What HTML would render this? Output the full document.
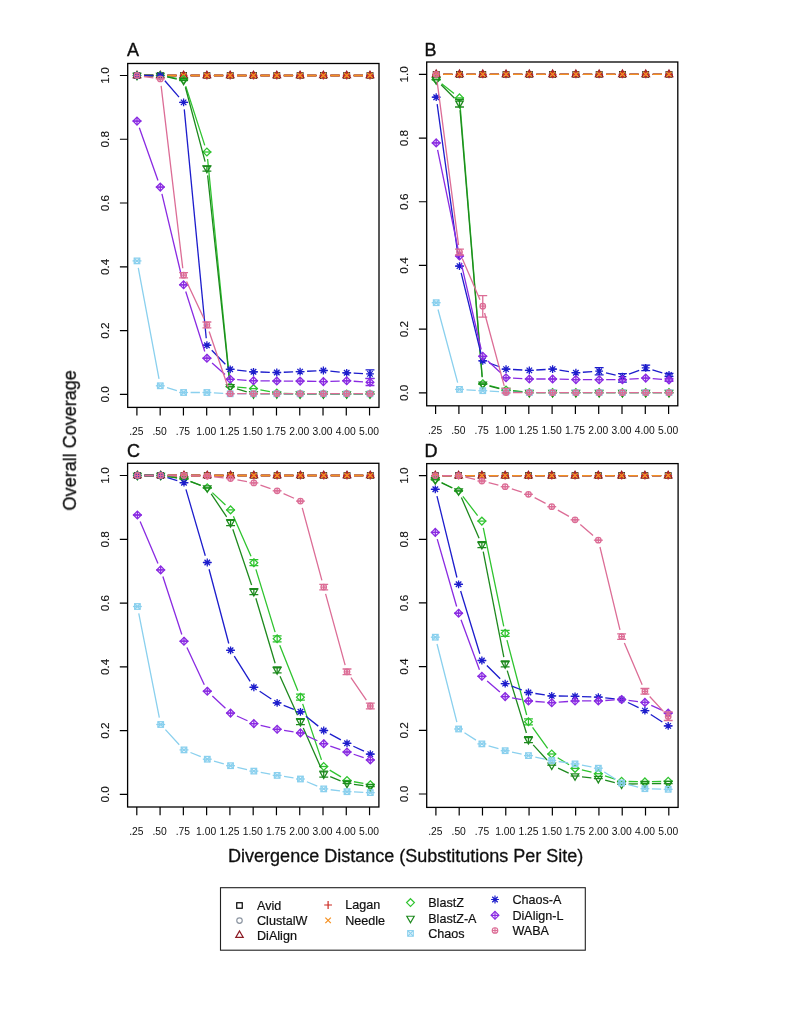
<!DOCTYPE html>
<html><head><meta charset="utf-8"><title>Overall Coverage</title>
<style>html,body{margin:0;padding:0;background:#fff;}body{width:785px;height:1016px;overflow:hidden;}svg{display:block;}text{stroke:#111;stroke-linejoin:round;}</style>
</head><body>
<svg width="785" height="1016" viewBox="0 0 785 1016" font-family='"Liberation Sans", sans-serif' fill="#111">
<defs><filter id="bl" x="0" y="0" width="1" height="1"><feGaussianBlur stdDeviation="0.3"/></filter></defs>
<rect width="785" height="1016" fill="#fff"/>
<g filter="url(#bl)">
<path d="M144 75.5L153.3 75.5M167.3 75.5L176.6 75.5M190.6 75.5L199.9 75.5M213.9 75.5L223.2 75.5M237.2 75.5L246.5 75.5M260.5 75.5L269.8 75.5M283.8 75.5L293.1 75.5M307.1 75.5L316.4 75.5M330.4 75.5L339.7 75.5M353.7 75.5L363 75.5" stroke="#000000" stroke-width="1.3" fill="none"/>
<rect x="134.25" y="72.75" width="5.5" height="5.5" stroke="#000000" stroke-width="1.3" fill="none"/>
<rect x="157.55" y="72.75" width="5.5" height="5.5" stroke="#000000" stroke-width="1.3" fill="none"/>
<rect x="180.85" y="72.75" width="5.5" height="5.5" stroke="#000000" stroke-width="1.3" fill="none"/>
<rect x="204.15" y="72.75" width="5.5" height="5.5" stroke="#000000" stroke-width="1.3" fill="none"/>
<rect x="227.45" y="72.75" width="5.5" height="5.5" stroke="#000000" stroke-width="1.3" fill="none"/>
<rect x="250.75" y="72.75" width="5.5" height="5.5" stroke="#000000" stroke-width="1.3" fill="none"/>
<rect x="274.05" y="72.75" width="5.5" height="5.5" stroke="#000000" stroke-width="1.3" fill="none"/>
<rect x="297.35" y="72.75" width="5.5" height="5.5" stroke="#000000" stroke-width="1.3" fill="none"/>
<rect x="320.65" y="72.75" width="5.5" height="5.5" stroke="#000000" stroke-width="1.3" fill="none"/>
<rect x="343.95" y="72.75" width="5.5" height="5.5" stroke="#000000" stroke-width="1.3" fill="none"/>
<rect x="367.25" y="72.75" width="5.5" height="5.5" stroke="#000000" stroke-width="1.3" fill="none"/>
<path d="M144 75.5L153.3 75.5M167.3 75.5L176.6 75.5M190.6 75.5L199.9 75.5M213.9 75.5L223.2 75.5M237.2 75.5L246.5 75.5M260.5 75.5L269.8 75.5M283.8 75.5L293.1 75.5M307.1 75.5L316.4 75.5M330.4 75.5L339.7 75.5M353.7 75.5L363 75.5" stroke="#8e97a3" stroke-width="1.3" fill="none"/>
<circle cx="137" cy="75.5" r="2.75" stroke="#8e97a3" stroke-width="1.3" fill="none"/>
<circle cx="160.3" cy="75.5" r="2.75" stroke="#8e97a3" stroke-width="1.3" fill="none"/>
<circle cx="183.6" cy="75.5" r="2.75" stroke="#8e97a3" stroke-width="1.3" fill="none"/>
<circle cx="206.9" cy="75.5" r="2.75" stroke="#8e97a3" stroke-width="1.3" fill="none"/>
<circle cx="230.2" cy="75.5" r="2.75" stroke="#8e97a3" stroke-width="1.3" fill="none"/>
<circle cx="253.5" cy="75.5" r="2.75" stroke="#8e97a3" stroke-width="1.3" fill="none"/>
<circle cx="276.8" cy="75.5" r="2.75" stroke="#8e97a3" stroke-width="1.3" fill="none"/>
<circle cx="300.1" cy="75.5" r="2.75" stroke="#8e97a3" stroke-width="1.3" fill="none"/>
<circle cx="323.4" cy="75.5" r="2.75" stroke="#8e97a3" stroke-width="1.3" fill="none"/>
<circle cx="346.7" cy="75.5" r="2.75" stroke="#8e97a3" stroke-width="1.3" fill="none"/>
<circle cx="370" cy="75.5" r="2.75" stroke="#8e97a3" stroke-width="1.3" fill="none"/>
<path d="M144 75.5L153.3 75.5M167.3 75.5L176.6 75.5M190.6 75.5L199.9 75.5M213.9 75.5L223.2 75.5M237.2 75.5L246.5 75.5M260.5 75.5L269.8 75.5M283.8 75.5L293.1 75.5M307.1 75.5L316.4 75.5M330.4 75.5L339.7 75.5M353.7 75.5L363 75.5" stroke="#8b1a24" stroke-width="1.3" fill="none"/>
<polygon points="137,71.22 140.7,77.64 133.3,77.64" stroke="#8b1a24" stroke-width="1.3" fill="none"/>
<polygon points="160.3,71.22 164,77.64 156.6,77.64" stroke="#8b1a24" stroke-width="1.3" fill="none"/>
<polygon points="183.6,71.22 187.3,77.64 179.9,77.64" stroke="#8b1a24" stroke-width="1.3" fill="none"/>
<polygon points="206.9,71.22 210.6,77.64 203.2,77.64" stroke="#8b1a24" stroke-width="1.3" fill="none"/>
<polygon points="230.2,71.22 233.9,77.64 226.5,77.64" stroke="#8b1a24" stroke-width="1.3" fill="none"/>
<polygon points="253.5,71.22 257.2,77.64 249.8,77.64" stroke="#8b1a24" stroke-width="1.3" fill="none"/>
<polygon points="276.8,71.22 280.5,77.64 273.1,77.64" stroke="#8b1a24" stroke-width="1.3" fill="none"/>
<polygon points="300.1,71.22 303.8,77.64 296.4,77.64" stroke="#8b1a24" stroke-width="1.3" fill="none"/>
<polygon points="323.4,71.22 327.1,77.64 319.7,77.64" stroke="#8b1a24" stroke-width="1.3" fill="none"/>
<polygon points="346.7,71.22 350.4,77.64 343,77.64" stroke="#8b1a24" stroke-width="1.3" fill="none"/>
<polygon points="370,71.22 373.7,77.64 366.3,77.64" stroke="#8b1a24" stroke-width="1.3" fill="none"/>
<path d="M144 75.5L153.3 75.5M167.3 75.5L176.6 75.5M190.6 75.5L199.9 75.5M213.9 75.5L223.2 75.5M237.2 75.5L246.5 75.5M260.5 75.5L269.8 75.5M283.8 75.5L293.1 75.5M307.1 75.5L316.4 75.5M330.4 75.5L339.7 75.5M353.7 75.5L363 75.5" stroke="#cc2a22" stroke-width="1.3" fill="none"/>
<path d="M133.11 75.5L140.89 75.5M137 71.61L137 79.39" stroke="#cc2a22" stroke-width="1.3" fill="none"/>
<path d="M156.41 75.5L164.19 75.5M160.3 71.61L160.3 79.39" stroke="#cc2a22" stroke-width="1.3" fill="none"/>
<path d="M179.71 75.5L187.49 75.5M183.6 71.61L183.6 79.39" stroke="#cc2a22" stroke-width="1.3" fill="none"/>
<path d="M203.01 75.5L210.79 75.5M206.9 71.61L206.9 79.39" stroke="#cc2a22" stroke-width="1.3" fill="none"/>
<path d="M226.31 75.5L234.09 75.5M230.2 71.61L230.2 79.39" stroke="#cc2a22" stroke-width="1.3" fill="none"/>
<path d="M249.61 75.5L257.39 75.5M253.5 71.61L253.5 79.39" stroke="#cc2a22" stroke-width="1.3" fill="none"/>
<path d="M272.91 75.5L280.69 75.5M276.8 71.61L276.8 79.39" stroke="#cc2a22" stroke-width="1.3" fill="none"/>
<path d="M296.21 75.5L303.99 75.5M300.1 71.61L300.1 79.39" stroke="#cc2a22" stroke-width="1.3" fill="none"/>
<path d="M319.51 75.5L327.29 75.5M323.4 71.61L323.4 79.39" stroke="#cc2a22" stroke-width="1.3" fill="none"/>
<path d="M342.81 75.5L350.59 75.5M346.7 71.61L346.7 79.39" stroke="#cc2a22" stroke-width="1.3" fill="none"/>
<path d="M366.11 75.5L373.89 75.5M370 71.61L370 79.39" stroke="#cc2a22" stroke-width="1.3" fill="none"/>
<path d="M144 75.5L153.3 75.5M167.3 75.5L176.6 75.5M190.6 75.5L199.9 75.5M213.9 75.5L223.2 75.5M237.2 75.5L246.5 75.5M260.5 75.5L269.8 75.5M283.8 75.5L293.1 75.5M307.1 75.5L316.4 75.5M330.4 75.5L339.7 75.5M353.7 75.5L363 75.5" stroke="#f59020" stroke-width="1.3" fill="none"/>
<path d="M134.25 72.75L139.75 78.25M134.25 78.25L139.75 72.75" stroke="#f59020" stroke-width="1.3" fill="none"/>
<path d="M157.55 72.75L163.05 78.25M157.55 78.25L163.05 72.75" stroke="#f59020" stroke-width="1.3" fill="none"/>
<path d="M180.85 72.75L186.35 78.25M180.85 78.25L186.35 72.75" stroke="#f59020" stroke-width="1.3" fill="none"/>
<path d="M204.15 72.75L209.65 78.25M204.15 78.25L209.65 72.75" stroke="#f59020" stroke-width="1.3" fill="none"/>
<path d="M227.45 72.75L232.95 78.25M227.45 78.25L232.95 72.75" stroke="#f59020" stroke-width="1.3" fill="none"/>
<path d="M250.75 72.75L256.25 78.25M250.75 78.25L256.25 72.75" stroke="#f59020" stroke-width="1.3" fill="none"/>
<path d="M274.05 72.75L279.55 78.25M274.05 78.25L279.55 72.75" stroke="#f59020" stroke-width="1.3" fill="none"/>
<path d="M297.35 72.75L302.85 78.25M297.35 78.25L302.85 72.75" stroke="#f59020" stroke-width="1.3" fill="none"/>
<path d="M320.65 72.75L326.15 78.25M320.65 78.25L326.15 72.75" stroke="#f59020" stroke-width="1.3" fill="none"/>
<path d="M343.95 72.75L349.45 78.25M343.95 78.25L349.45 72.75" stroke="#f59020" stroke-width="1.3" fill="none"/>
<path d="M367.25 72.75L372.75 78.25M367.25 78.25L372.75 72.75" stroke="#f59020" stroke-width="1.3" fill="none"/>
<path d="M144 75.5L153.3 75.5M167.2 76.68L176.7 78.32M185.74 86.16L204.76 145.34M207.59 158.97L229.51 379.43M237.17 387.06L246.53 387.94M260.38 389.9L269.92 391.7M283.79 393.3L293.11 393.7M307.1 394L316.4 394M330.4 394L339.7 394M353.7 394L363 394" stroke="#2fc42f" stroke-width="1.3" fill="none"/>
<polygon points="137,71.61 140.89,75.5 137,79.39 133.11,75.5" stroke="#2fc42f" stroke-width="1.3" fill="none"/>
<polygon points="160.3,71.61 164.19,75.5 160.3,79.39 156.41,75.5" stroke="#2fc42f" stroke-width="1.3" fill="none"/>
<path d="M179.15 79.5L188.05 79.5" stroke="#2fc42f" stroke-width="1.3" fill="none"/>
<polygon points="183.6,75.61 187.49,79.5 183.6,83.39 179.71,79.5" stroke="#2fc42f" stroke-width="1.3" fill="none"/>
<path d="M202.45 152L211.35 152" stroke="#2fc42f" stroke-width="1.3" fill="none"/>
<polygon points="206.9,148.11 210.79,152 206.9,155.89 203.01,152" stroke="#2fc42f" stroke-width="1.3" fill="none"/>
<path d="M225.75 386.4L234.65 386.4" stroke="#2fc42f" stroke-width="1.3" fill="none"/>
<polygon points="230.2,382.51 234.09,386.4 230.2,390.29 226.31,386.4" stroke="#2fc42f" stroke-width="1.3" fill="none"/>
<path d="M249.05 388.6L257.95 388.6" stroke="#2fc42f" stroke-width="1.3" fill="none"/>
<polygon points="253.5,384.71 257.39,388.6 253.5,392.49 249.61,388.6" stroke="#2fc42f" stroke-width="1.3" fill="none"/>
<path d="M272.35 393L281.25 393" stroke="#2fc42f" stroke-width="1.3" fill="none"/>
<polygon points="276.8,389.11 280.69,393 276.8,396.89 272.91,393" stroke="#2fc42f" stroke-width="1.3" fill="none"/>
<path d="M295.65 394L304.55 394" stroke="#2fc42f" stroke-width="1.3" fill="none"/>
<polygon points="300.1,390.11 303.99,394 300.1,397.89 296.21,394" stroke="#2fc42f" stroke-width="1.3" fill="none"/>
<path d="M318.95 394L327.85 394" stroke="#2fc42f" stroke-width="1.3" fill="none"/>
<polygon points="323.4,390.11 327.29,394 323.4,397.89 319.51,394" stroke="#2fc42f" stroke-width="1.3" fill="none"/>
<path d="M342.25 394L351.15 394" stroke="#2fc42f" stroke-width="1.3" fill="none"/>
<polygon points="346.7,390.11 350.59,394 346.7,397.89 342.81,394" stroke="#2fc42f" stroke-width="1.3" fill="none"/>
<path d="M365.55 394L374.45 394" stroke="#2fc42f" stroke-width="1.3" fill="none"/>
<polygon points="370,390.11 373.89,394 370,397.89 366.11,394" stroke="#2fc42f" stroke-width="1.3" fill="none"/>
<path d="M144 75.5L153.3 75.5M167.14 76.97L176.76 79.03M185.39 87.27L205.11 161.63M207.64 175.36L229.46 379.84M236.9 388.81L246.8 391.79M260.5 393.86L269.8 393.94M283.8 394L293.1 394M307.1 394L316.4 394M330.4 394L339.7 394M353.7 394L363 394" stroke="#1f8a1f" stroke-width="1.3" fill="none"/>
<polygon points="137,79.78 140.7,73.36 133.3,73.36" stroke="#1f8a1f" stroke-width="1.3" fill="none"/>
<polygon points="160.3,79.78 164,73.36 156.6,73.36" stroke="#1f8a1f" stroke-width="1.3" fill="none"/>
<path d="M179.15 80.5L188.05 80.5" stroke="#1f8a1f" stroke-width="1.3" fill="none"/>
<polygon points="183.6,84.78 187.3,78.36 179.9,78.36" stroke="#1f8a1f" stroke-width="1.3" fill="none"/>
<path d="M206.9 165.8L206.9 171.2M202.45 165.8L211.35 165.8M202.45 171.2L211.35 171.2" stroke="#1f8a1f" stroke-width="1.3" fill="none"/>
<polygon points="206.9,172.68 210.6,166.26 203.2,166.26" stroke="#1f8a1f" stroke-width="1.3" fill="none"/>
<path d="M225.75 386.8L234.65 386.8" stroke="#1f8a1f" stroke-width="1.3" fill="none"/>
<polygon points="230.2,391.08 233.9,384.66 226.5,384.66" stroke="#1f8a1f" stroke-width="1.3" fill="none"/>
<path d="M249.05 393.8L257.95 393.8" stroke="#1f8a1f" stroke-width="1.3" fill="none"/>
<polygon points="253.5,398.08 257.2,391.66 249.8,391.66" stroke="#1f8a1f" stroke-width="1.3" fill="none"/>
<path d="M272.35 394L281.25 394" stroke="#1f8a1f" stroke-width="1.3" fill="none"/>
<polygon points="276.8,398.28 280.5,391.86 273.1,391.86" stroke="#1f8a1f" stroke-width="1.3" fill="none"/>
<path d="M295.65 394L304.55 394" stroke="#1f8a1f" stroke-width="1.3" fill="none"/>
<polygon points="300.1,398.28 303.8,391.86 296.4,391.86" stroke="#1f8a1f" stroke-width="1.3" fill="none"/>
<path d="M318.95 394L327.85 394" stroke="#1f8a1f" stroke-width="1.3" fill="none"/>
<polygon points="323.4,398.28 327.1,391.86 319.7,391.86" stroke="#1f8a1f" stroke-width="1.3" fill="none"/>
<path d="M342.25 394L351.15 394" stroke="#1f8a1f" stroke-width="1.3" fill="none"/>
<polygon points="346.7,398.28 350.4,391.86 343,391.86" stroke="#1f8a1f" stroke-width="1.3" fill="none"/>
<path d="M365.55 394L374.45 394" stroke="#1f8a1f" stroke-width="1.3" fill="none"/>
<polygon points="370,398.28 373.7,391.86 366.3,391.86" stroke="#1f8a1f" stroke-width="1.3" fill="none"/>
<path d="M138.28 267.78L159.02 378.92M167.03 387.73L176.87 390.57M190.6 392.5L199.9 392.5M213.89 392.89L223.21 393.41M237.2 393.8L246.5 393.8M260.5 393.8L269.8 393.8M283.8 393.8L293.1 393.8M307.1 393.8L316.4 393.8M330.4 393.8L339.7 393.8M353.7 393.8L363 393.8" stroke="#8ad0ee" stroke-width="1.3" fill="none"/>
<path d="M132.55 260.9L141.45 260.9" stroke="#8ad0ee" stroke-width="1.3" fill="none"/>
<rect x="134.25" y="258.15" width="5.5" height="5.5" stroke="#8ad0ee" stroke-width="1.3" fill="none"/><path d="M134.25 258.15L139.75 263.65M134.25 263.65L139.75 258.15" stroke="#8ad0ee" stroke-width="1.3" fill="none"/>
<path d="M155.85 385.8L164.75 385.8" stroke="#8ad0ee" stroke-width="1.3" fill="none"/>
<rect x="157.55" y="383.05" width="5.5" height="5.5" stroke="#8ad0ee" stroke-width="1.3" fill="none"/><path d="M157.55 383.05L163.05 388.55M157.55 388.55L163.05 383.05" stroke="#8ad0ee" stroke-width="1.3" fill="none"/>
<path d="M179.15 392.5L188.05 392.5" stroke="#8ad0ee" stroke-width="1.3" fill="none"/>
<rect x="180.85" y="389.75" width="5.5" height="5.5" stroke="#8ad0ee" stroke-width="1.3" fill="none"/><path d="M180.85 389.75L186.35 395.25M180.85 395.25L186.35 389.75" stroke="#8ad0ee" stroke-width="1.3" fill="none"/>
<path d="M202.45 392.5L211.35 392.5" stroke="#8ad0ee" stroke-width="1.3" fill="none"/>
<rect x="204.15" y="389.75" width="5.5" height="5.5" stroke="#8ad0ee" stroke-width="1.3" fill="none"/><path d="M204.15 389.75L209.65 395.25M204.15 395.25L209.65 389.75" stroke="#8ad0ee" stroke-width="1.3" fill="none"/>
<path d="M225.75 393.8L234.65 393.8" stroke="#8ad0ee" stroke-width="1.3" fill="none"/>
<rect x="227.45" y="391.05" width="5.5" height="5.5" stroke="#8ad0ee" stroke-width="1.3" fill="none"/><path d="M227.45 391.05L232.95 396.55M227.45 396.55L232.95 391.05" stroke="#8ad0ee" stroke-width="1.3" fill="none"/>
<path d="M249.05 393.8L257.95 393.8" stroke="#8ad0ee" stroke-width="1.3" fill="none"/>
<rect x="250.75" y="391.05" width="5.5" height="5.5" stroke="#8ad0ee" stroke-width="1.3" fill="none"/><path d="M250.75 391.05L256.25 396.55M250.75 396.55L256.25 391.05" stroke="#8ad0ee" stroke-width="1.3" fill="none"/>
<path d="M272.35 393.8L281.25 393.8" stroke="#8ad0ee" stroke-width="1.3" fill="none"/>
<rect x="274.05" y="391.05" width="5.5" height="5.5" stroke="#8ad0ee" stroke-width="1.3" fill="none"/><path d="M274.05 391.05L279.55 396.55M274.05 396.55L279.55 391.05" stroke="#8ad0ee" stroke-width="1.3" fill="none"/>
<path d="M295.65 393.8L304.55 393.8" stroke="#8ad0ee" stroke-width="1.3" fill="none"/>
<rect x="297.35" y="391.05" width="5.5" height="5.5" stroke="#8ad0ee" stroke-width="1.3" fill="none"/><path d="M297.35 391.05L302.85 396.55M297.35 396.55L302.85 391.05" stroke="#8ad0ee" stroke-width="1.3" fill="none"/>
<path d="M318.95 393.8L327.85 393.8" stroke="#8ad0ee" stroke-width="1.3" fill="none"/>
<rect x="320.65" y="391.05" width="5.5" height="5.5" stroke="#8ad0ee" stroke-width="1.3" fill="none"/><path d="M320.65 391.05L326.15 396.55M320.65 396.55L326.15 391.05" stroke="#8ad0ee" stroke-width="1.3" fill="none"/>
<path d="M342.25 393.8L351.15 393.8" stroke="#8ad0ee" stroke-width="1.3" fill="none"/>
<rect x="343.95" y="391.05" width="5.5" height="5.5" stroke="#8ad0ee" stroke-width="1.3" fill="none"/><path d="M343.95 391.05L349.45 396.55M343.95 396.55L349.45 391.05" stroke="#8ad0ee" stroke-width="1.3" fill="none"/>
<path d="M365.55 393.8L374.45 393.8" stroke="#8ad0ee" stroke-width="1.3" fill="none"/>
<rect x="367.25" y="391.05" width="5.5" height="5.5" stroke="#8ad0ee" stroke-width="1.3" fill="none"/><path d="M367.25 391.05L372.75 396.55M367.25 396.55L372.75 391.05" stroke="#8ad0ee" stroke-width="1.3" fill="none"/>
<path d="M144 75.5L153.3 75.5M164.88 80.79L179.02 97.11M184.27 109.37L206.23 338.23M211.77 350.23L225.33 364.27M237.16 370.05L246.54 371.05M260.5 372.01L269.8 372.29M283.79 372.23L293.11 371.87M307.09 371.27L316.41 370.83M330.37 371.19L339.73 372.11M353.69 373.13L363.01 373.57" stroke="#1c1ccc" stroke-width="1.3" fill="none"/>
<path d="M134.25 72.75L139.75 78.25M134.25 78.25L139.75 72.75M133.11 75.5L140.89 75.5M137 71.61L137 79.39" stroke="#1c1ccc" stroke-width="1.3" fill="none"/>
<path d="M157.55 72.75L163.05 78.25M157.55 78.25L163.05 72.75M156.41 75.5L164.19 75.5M160.3 71.61L160.3 79.39" stroke="#1c1ccc" stroke-width="1.3" fill="none"/>
<path d="M179.15 102.4L188.05 102.4" stroke="#1c1ccc" stroke-width="1.3" fill="none"/>
<path d="M180.85 99.65L186.35 105.15M180.85 105.15L186.35 99.65M179.71 102.4L187.49 102.4M183.6 98.51L183.6 106.29" stroke="#1c1ccc" stroke-width="1.3" fill="none"/>
<path d="M202.45 345.2L211.35 345.2" stroke="#1c1ccc" stroke-width="1.3" fill="none"/>
<path d="M204.15 342.45L209.65 347.95M204.15 347.95L209.65 342.45M203.01 345.2L210.79 345.2M206.9 341.31L206.9 349.09" stroke="#1c1ccc" stroke-width="1.3" fill="none"/>
<path d="M225.75 369.3L234.65 369.3" stroke="#1c1ccc" stroke-width="1.3" fill="none"/>
<path d="M227.45 366.55L232.95 372.05M227.45 372.05L232.95 366.55M226.31 369.3L234.09 369.3M230.2 365.41L230.2 373.19" stroke="#1c1ccc" stroke-width="1.3" fill="none"/>
<path d="M249.05 371.8L257.95 371.8" stroke="#1c1ccc" stroke-width="1.3" fill="none"/>
<path d="M250.75 369.05L256.25 374.55M250.75 374.55L256.25 369.05M249.61 371.8L257.39 371.8M253.5 367.91L253.5 375.69" stroke="#1c1ccc" stroke-width="1.3" fill="none"/>
<path d="M272.35 372.5L281.25 372.5" stroke="#1c1ccc" stroke-width="1.3" fill="none"/>
<path d="M274.05 369.75L279.55 375.25M274.05 375.25L279.55 369.75M272.91 372.5L280.69 372.5M276.8 368.61L276.8 376.39" stroke="#1c1ccc" stroke-width="1.3" fill="none"/>
<path d="M295.65 371.6L304.55 371.6" stroke="#1c1ccc" stroke-width="1.3" fill="none"/>
<path d="M297.35 368.85L302.85 374.35M297.35 374.35L302.85 368.85M296.21 371.6L303.99 371.6M300.1 367.71L300.1 375.49" stroke="#1c1ccc" stroke-width="1.3" fill="none"/>
<path d="M318.95 370.5L327.85 370.5" stroke="#1c1ccc" stroke-width="1.3" fill="none"/>
<path d="M320.65 367.75L326.15 373.25M320.65 373.25L326.15 367.75M319.51 370.5L327.29 370.5M323.4 366.61L323.4 374.39" stroke="#1c1ccc" stroke-width="1.3" fill="none"/>
<path d="M342.25 372.8L351.15 372.8" stroke="#1c1ccc" stroke-width="1.3" fill="none"/>
<path d="M343.95 370.05L349.45 375.55M343.95 375.55L349.45 370.05M342.81 372.8L350.59 372.8M346.7 368.91L346.7 376.69" stroke="#1c1ccc" stroke-width="1.3" fill="none"/>
<path d="M370 369.8L370 378.3M365.55 369.8L374.45 369.8M365.55 378.3L374.45 378.3" stroke="#1c1ccc" stroke-width="1.3" fill="none"/>
<path d="M367.25 371.15L372.75 376.65M367.25 376.65L372.75 371.15M366.11 373.9L373.89 373.9M370 370.01L370 377.79" stroke="#1c1ccc" stroke-width="1.3" fill="none"/>
<path d="M139.33 127.7L157.97 180.5M161.92 193.91L181.98 277.99M185.72 291.47L204.78 351.53M212.09 362.9L225.01 374.6M237.19 379.72L246.51 380.28M260.5 380.79L269.8 380.91M283.8 381.03L293.1 381.07M307.1 381.25L316.4 381.45M330.4 381.36L339.7 381.04M353.69 381.25L363.01 381.85" stroke="#8a2be2" stroke-width="1.3" fill="none"/>
<path d="M132.55 121.1L141.45 121.1" stroke="#8a2be2" stroke-width="1.3" fill="none"/>
<polygon points="137,117.21 140.89,121.1 137,124.99 133.11,121.1" stroke="#8a2be2" stroke-width="1.3" fill="none"/><path d="M133.11 121.1L140.89 121.1M137 117.21L137 124.99" stroke="#8a2be2" stroke-width="1.3" fill="none"/>
<path d="M155.85 187.1L164.75 187.1" stroke="#8a2be2" stroke-width="1.3" fill="none"/>
<polygon points="160.3,183.21 164.19,187.1 160.3,190.99 156.41,187.1" stroke="#8a2be2" stroke-width="1.3" fill="none"/><path d="M156.41 187.1L164.19 187.1M160.3 183.21L160.3 190.99" stroke="#8a2be2" stroke-width="1.3" fill="none"/>
<path d="M179.15 284.8L188.05 284.8" stroke="#8a2be2" stroke-width="1.3" fill="none"/>
<polygon points="183.6,280.91 187.49,284.8 183.6,288.69 179.71,284.8" stroke="#8a2be2" stroke-width="1.3" fill="none"/><path d="M179.71 284.8L187.49 284.8M183.6 280.91L183.6 288.69" stroke="#8a2be2" stroke-width="1.3" fill="none"/>
<path d="M202.45 358.2L211.35 358.2" stroke="#8a2be2" stroke-width="1.3" fill="none"/>
<polygon points="206.9,354.31 210.79,358.2 206.9,362.09 203.01,358.2" stroke="#8a2be2" stroke-width="1.3" fill="none"/><path d="M203.01 358.2L210.79 358.2M206.9 354.31L206.9 362.09" stroke="#8a2be2" stroke-width="1.3" fill="none"/>
<path d="M225.75 379.3L234.65 379.3" stroke="#8a2be2" stroke-width="1.3" fill="none"/>
<polygon points="230.2,375.41 234.09,379.3 230.2,383.19 226.31,379.3" stroke="#8a2be2" stroke-width="1.3" fill="none"/><path d="M226.31 379.3L234.09 379.3M230.2 375.41L230.2 383.19" stroke="#8a2be2" stroke-width="1.3" fill="none"/>
<path d="M249.05 380.7L257.95 380.7" stroke="#8a2be2" stroke-width="1.3" fill="none"/>
<polygon points="253.5,376.81 257.39,380.7 253.5,384.59 249.61,380.7" stroke="#8a2be2" stroke-width="1.3" fill="none"/><path d="M249.61 380.7L257.39 380.7M253.5 376.81L253.5 384.59" stroke="#8a2be2" stroke-width="1.3" fill="none"/>
<path d="M272.35 381L281.25 381" stroke="#8a2be2" stroke-width="1.3" fill="none"/>
<polygon points="276.8,377.11 280.69,381 276.8,384.89 272.91,381" stroke="#8a2be2" stroke-width="1.3" fill="none"/><path d="M272.91 381L280.69 381M276.8 377.11L276.8 384.89" stroke="#8a2be2" stroke-width="1.3" fill="none"/>
<path d="M295.65 381.1L304.55 381.1" stroke="#8a2be2" stroke-width="1.3" fill="none"/>
<polygon points="300.1,377.21 303.99,381.1 300.1,384.99 296.21,381.1" stroke="#8a2be2" stroke-width="1.3" fill="none"/><path d="M296.21 381.1L303.99 381.1M300.1 377.21L300.1 384.99" stroke="#8a2be2" stroke-width="1.3" fill="none"/>
<path d="M318.95 381.6L327.85 381.6" stroke="#8a2be2" stroke-width="1.3" fill="none"/>
<polygon points="323.4,377.71 327.29,381.6 323.4,385.49 319.51,381.6" stroke="#8a2be2" stroke-width="1.3" fill="none"/><path d="M319.51 381.6L327.29 381.6M323.4 377.71L323.4 385.49" stroke="#8a2be2" stroke-width="1.3" fill="none"/>
<path d="M342.25 380.8L351.15 380.8" stroke="#8a2be2" stroke-width="1.3" fill="none"/>
<polygon points="346.7,376.91 350.59,380.8 346.7,384.69 342.81,380.8" stroke="#8a2be2" stroke-width="1.3" fill="none"/><path d="M342.81 380.8L350.59 380.8M346.7 376.91L346.7 384.69" stroke="#8a2be2" stroke-width="1.3" fill="none"/>
<path d="M370 378.7L370 385.5M365.55 378.7L374.45 378.7M365.55 385.5L374.45 385.5" stroke="#8a2be2" stroke-width="1.3" fill="none"/>
<polygon points="370,378.41 373.89,382.3 370,386.19 366.11,382.3" stroke="#8a2be2" stroke-width="1.3" fill="none"/><path d="M366.11 382.3L373.89 382.3M370 378.41L370 386.19" stroke="#8a2be2" stroke-width="1.3" fill="none"/>
<path d="M143.93 76.51L153.37 77.89M161.13 85.85L182.77 268.25M186.57 281.54L203.93 318.56M209.15 331.53L227.95 387.07M237.2 393.7L246.5 393.7M260.5 393.7L269.8 393.7M283.8 393.7L293.1 393.7M307.1 393.7L316.4 393.7M330.4 393.7L339.7 393.7M353.7 393.7L363 393.7" stroke="#dc6d96" stroke-width="1.3" fill="none"/>
<circle cx="137" cy="75.5" r="2.75" stroke="#dc6d96" stroke-width="1.3" fill="none"/><path d="M134.25 75.5L139.75 75.5M137 72.75L137 78.25" stroke="#dc6d96" stroke-width="1.3" fill="none"/>
<path d="M155.85 78.9L164.75 78.9" stroke="#dc6d96" stroke-width="1.3" fill="none"/>
<circle cx="160.3" cy="78.9" r="2.75" stroke="#dc6d96" stroke-width="1.3" fill="none"/><path d="M157.55 78.9L163.05 78.9M160.3 76.15L160.3 81.65" stroke="#dc6d96" stroke-width="1.3" fill="none"/>
<path d="M183.6 272.6L183.6 277.8M179.15 272.6L188.05 272.6M179.15 277.8L188.05 277.8" stroke="#dc6d96" stroke-width="1.3" fill="none"/>
<circle cx="183.6" cy="275.2" r="2.75" stroke="#dc6d96" stroke-width="1.3" fill="none"/><path d="M180.85 275.2L186.35 275.2M183.6 272.45L183.6 277.95" stroke="#dc6d96" stroke-width="1.3" fill="none"/>
<path d="M206.9 322L206.9 327.8M202.45 322L211.35 322M202.45 327.8L211.35 327.8" stroke="#dc6d96" stroke-width="1.3" fill="none"/>
<circle cx="206.9" cy="324.9" r="2.75" stroke="#dc6d96" stroke-width="1.3" fill="none"/><path d="M204.15 324.9L209.65 324.9M206.9 322.15L206.9 327.65" stroke="#dc6d96" stroke-width="1.3" fill="none"/>
<path d="M225.75 393.7L234.65 393.7" stroke="#dc6d96" stroke-width="1.3" fill="none"/>
<circle cx="230.2" cy="393.7" r="2.75" stroke="#dc6d96" stroke-width="1.3" fill="none"/><path d="M227.45 393.7L232.95 393.7M230.2 390.95L230.2 396.45" stroke="#dc6d96" stroke-width="1.3" fill="none"/>
<path d="M249.05 393.7L257.95 393.7" stroke="#dc6d96" stroke-width="1.3" fill="none"/>
<circle cx="253.5" cy="393.7" r="2.75" stroke="#dc6d96" stroke-width="1.3" fill="none"/><path d="M250.75 393.7L256.25 393.7M253.5 390.95L253.5 396.45" stroke="#dc6d96" stroke-width="1.3" fill="none"/>
<path d="M272.35 393.7L281.25 393.7" stroke="#dc6d96" stroke-width="1.3" fill="none"/>
<circle cx="276.8" cy="393.7" r="2.75" stroke="#dc6d96" stroke-width="1.3" fill="none"/><path d="M274.05 393.7L279.55 393.7M276.8 390.95L276.8 396.45" stroke="#dc6d96" stroke-width="1.3" fill="none"/>
<path d="M295.65 393.7L304.55 393.7" stroke="#dc6d96" stroke-width="1.3" fill="none"/>
<circle cx="300.1" cy="393.7" r="2.75" stroke="#dc6d96" stroke-width="1.3" fill="none"/><path d="M297.35 393.7L302.85 393.7M300.1 390.95L300.1 396.45" stroke="#dc6d96" stroke-width="1.3" fill="none"/>
<path d="M318.95 393.7L327.85 393.7" stroke="#dc6d96" stroke-width="1.3" fill="none"/>
<circle cx="323.4" cy="393.7" r="2.75" stroke="#dc6d96" stroke-width="1.3" fill="none"/><path d="M320.65 393.7L326.15 393.7M323.4 390.95L323.4 396.45" stroke="#dc6d96" stroke-width="1.3" fill="none"/>
<path d="M342.25 393.7L351.15 393.7" stroke="#dc6d96" stroke-width="1.3" fill="none"/>
<circle cx="346.7" cy="393.7" r="2.75" stroke="#dc6d96" stroke-width="1.3" fill="none"/><path d="M343.95 393.7L349.45 393.7M346.7 390.95L346.7 396.45" stroke="#dc6d96" stroke-width="1.3" fill="none"/>
<path d="M365.55 393.7L374.45 393.7" stroke="#dc6d96" stroke-width="1.3" fill="none"/>
<circle cx="370" cy="393.7" r="2.75" stroke="#dc6d96" stroke-width="1.3" fill="none"/><path d="M367.25 393.7L372.75 393.7M370 390.95L370 396.45" stroke="#dc6d96" stroke-width="1.3" fill="none"/>
<rect x="127.7" y="63.5" width="251.3" height="343.9" stroke="#000" stroke-width="1.3" fill="none"/>
<path d="M136.9 407.4L136.9 415.6M160.17 407.4L160.17 415.6M183.43 407.4L183.43 415.6M206.69 407.4L206.69 415.6M229.96 407.4L229.96 415.6M253.23 407.4L253.23 415.6M276.49 407.4L276.49 415.6M299.75 407.4L299.75 415.6M323.02 407.4L323.02 415.6M346.28 407.4L346.28 415.6M369.55 407.4L369.55 415.6" stroke="#000" stroke-width="1.2"/>
<text x="136.4" y="435.1" text-anchor="middle" font-size="10.3" stroke-width="0">.25</text>
<text x="159.67" y="435.1" text-anchor="middle" font-size="10.3" stroke-width="0">.50</text>
<text x="182.93" y="435.1" text-anchor="middle" font-size="10.3" stroke-width="0">.75</text>
<text x="206.19" y="435.1" text-anchor="middle" font-size="10.3" stroke-width="0">1.00</text>
<text x="229.46" y="435.1" text-anchor="middle" font-size="10.3" stroke-width="0">1.25</text>
<text x="252.73" y="435.1" text-anchor="middle" font-size="10.3" stroke-width="0">1.50</text>
<text x="275.99" y="435.1" text-anchor="middle" font-size="10.3" stroke-width="0">1.75</text>
<text x="299.25" y="435.1" text-anchor="middle" font-size="10.3" stroke-width="0">2.00</text>
<text x="322.52" y="435.1" text-anchor="middle" font-size="10.3" stroke-width="0">3.00</text>
<text x="345.78" y="435.1" text-anchor="middle" font-size="10.3" stroke-width="0">4.00</text>
<text x="369.05" y="435.1" text-anchor="middle" font-size="10.3" stroke-width="0">5.00</text>
<path d="M119.9 394.3L127.7 394.3M119.9 330.54L127.7 330.54M119.9 266.78L127.7 266.78M119.9 203.02L127.7 203.02M119.9 139.26L127.7 139.26M119.9 75.5L127.7 75.5" stroke="#000" stroke-width="1.2"/>
<text transform="translate(109 394.3) rotate(-90)" text-anchor="middle" font-size="11.8" stroke-width="0.1">0.0</text>
<text transform="translate(109 330.54) rotate(-90)" text-anchor="middle" font-size="11.8" stroke-width="0.1">0.2</text>
<text transform="translate(109 266.78) rotate(-90)" text-anchor="middle" font-size="11.8" stroke-width="0.1">0.4</text>
<text transform="translate(109 203.02) rotate(-90)" text-anchor="middle" font-size="11.8" stroke-width="0.1">0.6</text>
<text transform="translate(109 139.26) rotate(-90)" text-anchor="middle" font-size="11.8" stroke-width="0.1">0.8</text>
<text transform="translate(109 75.5) rotate(-90)" text-anchor="middle" font-size="11.8" stroke-width="0.1">1.0</text>
<text x="127.1" y="55.8" font-size="18" stroke-width="0.4">A</text>
<path d="M443.2 74.4L452.48 74.4M466.48 74.4L475.76 74.4M489.76 74.4L499.04 74.4M513.04 74.4L522.32 74.4M536.32 74.4L545.6 74.4M559.6 74.4L568.88 74.4M582.88 74.4L592.16 74.4M606.16 74.4L615.44 74.4M629.44 74.4L638.72 74.4M652.72 74.4L662 74.4" stroke="#000000" stroke-width="1.3" fill="none"/>
<rect x="433.45" y="71.65" width="5.5" height="5.5" stroke="#000000" stroke-width="1.3" fill="none"/>
<rect x="456.73" y="71.65" width="5.5" height="5.5" stroke="#000000" stroke-width="1.3" fill="none"/>
<rect x="480.01" y="71.65" width="5.5" height="5.5" stroke="#000000" stroke-width="1.3" fill="none"/>
<rect x="503.29" y="71.65" width="5.5" height="5.5" stroke="#000000" stroke-width="1.3" fill="none"/>
<rect x="526.57" y="71.65" width="5.5" height="5.5" stroke="#000000" stroke-width="1.3" fill="none"/>
<rect x="549.85" y="71.65" width="5.5" height="5.5" stroke="#000000" stroke-width="1.3" fill="none"/>
<rect x="573.13" y="71.65" width="5.5" height="5.5" stroke="#000000" stroke-width="1.3" fill="none"/>
<rect x="596.41" y="71.65" width="5.5" height="5.5" stroke="#000000" stroke-width="1.3" fill="none"/>
<rect x="619.69" y="71.65" width="5.5" height="5.5" stroke="#000000" stroke-width="1.3" fill="none"/>
<rect x="642.97" y="71.65" width="5.5" height="5.5" stroke="#000000" stroke-width="1.3" fill="none"/>
<rect x="666.25" y="71.65" width="5.5" height="5.5" stroke="#000000" stroke-width="1.3" fill="none"/>
<path d="M443.2 74.4L452.48 74.4M466.48 74.4L475.76 74.4M489.76 74.4L499.04 74.4M513.04 74.4L522.32 74.4M536.32 74.4L545.6 74.4M559.6 74.4L568.88 74.4M582.88 74.4L592.16 74.4M606.16 74.4L615.44 74.4M629.44 74.4L638.72 74.4M652.72 74.4L662 74.4" stroke="#8e97a3" stroke-width="1.3" fill="none"/>
<circle cx="436.2" cy="74.4" r="2.75" stroke="#8e97a3" stroke-width="1.3" fill="none"/>
<circle cx="459.48" cy="74.4" r="2.75" stroke="#8e97a3" stroke-width="1.3" fill="none"/>
<circle cx="482.76" cy="74.4" r="2.75" stroke="#8e97a3" stroke-width="1.3" fill="none"/>
<circle cx="506.04" cy="74.4" r="2.75" stroke="#8e97a3" stroke-width="1.3" fill="none"/>
<circle cx="529.32" cy="74.4" r="2.75" stroke="#8e97a3" stroke-width="1.3" fill="none"/>
<circle cx="552.6" cy="74.4" r="2.75" stroke="#8e97a3" stroke-width="1.3" fill="none"/>
<circle cx="575.88" cy="74.4" r="2.75" stroke="#8e97a3" stroke-width="1.3" fill="none"/>
<circle cx="599.16" cy="74.4" r="2.75" stroke="#8e97a3" stroke-width="1.3" fill="none"/>
<circle cx="622.44" cy="74.4" r="2.75" stroke="#8e97a3" stroke-width="1.3" fill="none"/>
<circle cx="645.72" cy="74.4" r="2.75" stroke="#8e97a3" stroke-width="1.3" fill="none"/>
<circle cx="669" cy="74.4" r="2.75" stroke="#8e97a3" stroke-width="1.3" fill="none"/>
<path d="M443.2 74.4L452.48 74.4M466.48 74.4L475.76 74.4M489.76 74.4L499.04 74.4M513.04 74.4L522.32 74.4M536.32 74.4L545.6 74.4M559.6 74.4L568.88 74.4M582.88 74.4L592.16 74.4M606.16 74.4L615.44 74.4M629.44 74.4L638.72 74.4M652.72 74.4L662 74.4" stroke="#8b1a24" stroke-width="1.3" fill="none"/>
<polygon points="436.2,70.12 439.9,76.54 432.5,76.54" stroke="#8b1a24" stroke-width="1.3" fill="none"/>
<polygon points="459.48,70.12 463.18,76.54 455.78,76.54" stroke="#8b1a24" stroke-width="1.3" fill="none"/>
<polygon points="482.76,70.12 486.46,76.54 479.06,76.54" stroke="#8b1a24" stroke-width="1.3" fill="none"/>
<polygon points="506.04,70.12 509.74,76.54 502.34,76.54" stroke="#8b1a24" stroke-width="1.3" fill="none"/>
<polygon points="529.32,70.12 533.02,76.54 525.62,76.54" stroke="#8b1a24" stroke-width="1.3" fill="none"/>
<polygon points="552.6,70.12 556.3,76.54 548.9,76.54" stroke="#8b1a24" stroke-width="1.3" fill="none"/>
<polygon points="575.88,70.12 579.58,76.54 572.18,76.54" stroke="#8b1a24" stroke-width="1.3" fill="none"/>
<polygon points="599.16,70.12 602.86,76.54 595.46,76.54" stroke="#8b1a24" stroke-width="1.3" fill="none"/>
<polygon points="622.44,70.12 626.14,76.54 618.74,76.54" stroke="#8b1a24" stroke-width="1.3" fill="none"/>
<polygon points="645.72,70.12 649.42,76.54 642.02,76.54" stroke="#8b1a24" stroke-width="1.3" fill="none"/>
<polygon points="669,70.12 672.7,76.54 665.3,76.54" stroke="#8b1a24" stroke-width="1.3" fill="none"/>
<path d="M443.2 74.4L452.48 74.4M466.48 74.4L475.76 74.4M489.76 74.4L499.04 74.4M513.04 74.4L522.32 74.4M536.32 74.4L545.6 74.4M559.6 74.4L568.88 74.4M582.88 74.4L592.16 74.4M606.16 74.4L615.44 74.4M629.44 74.4L638.72 74.4M652.72 74.4L662 74.4" stroke="#cc2a22" stroke-width="1.3" fill="none"/>
<path d="M432.31 74.4L440.09 74.4M436.2 70.51L436.2 78.29" stroke="#cc2a22" stroke-width="1.3" fill="none"/>
<path d="M455.59 74.4L463.37 74.4M459.48 70.51L459.48 78.29" stroke="#cc2a22" stroke-width="1.3" fill="none"/>
<path d="M478.87 74.4L486.65 74.4M482.76 70.51L482.76 78.29" stroke="#cc2a22" stroke-width="1.3" fill="none"/>
<path d="M502.15 74.4L509.93 74.4M506.04 70.51L506.04 78.29" stroke="#cc2a22" stroke-width="1.3" fill="none"/>
<path d="M525.43 74.4L533.21 74.4M529.32 70.51L529.32 78.29" stroke="#cc2a22" stroke-width="1.3" fill="none"/>
<path d="M548.71 74.4L556.49 74.4M552.6 70.51L552.6 78.29" stroke="#cc2a22" stroke-width="1.3" fill="none"/>
<path d="M571.99 74.4L579.77 74.4M575.88 70.51L575.88 78.29" stroke="#cc2a22" stroke-width="1.3" fill="none"/>
<path d="M595.27 74.4L603.05 74.4M599.16 70.51L599.16 78.29" stroke="#cc2a22" stroke-width="1.3" fill="none"/>
<path d="M618.55 74.4L626.33 74.4M622.44 70.51L622.44 78.29" stroke="#cc2a22" stroke-width="1.3" fill="none"/>
<path d="M641.83 74.4L649.61 74.4M645.72 70.51L645.72 78.29" stroke="#cc2a22" stroke-width="1.3" fill="none"/>
<path d="M665.11 74.4L672.89 74.4M669 70.51L669 78.29" stroke="#cc2a22" stroke-width="1.3" fill="none"/>
<path d="M443.2 74.4L452.48 74.4M466.48 74.4L475.76 74.4M489.76 74.4L499.04 74.4M513.04 74.4L522.32 74.4M536.32 74.4L545.6 74.4M559.6 74.4L568.88 74.4M582.88 74.4L592.16 74.4M606.16 74.4L615.44 74.4M629.44 74.4L638.72 74.4M652.72 74.4L662 74.4" stroke="#f59020" stroke-width="1.3" fill="none"/>
<path d="M433.45 71.65L438.95 77.15M433.45 77.15L438.95 71.65" stroke="#f59020" stroke-width="1.3" fill="none"/>
<path d="M456.73 71.65L462.23 77.15M456.73 77.15L462.23 71.65" stroke="#f59020" stroke-width="1.3" fill="none"/>
<path d="M480.01 71.65L485.51 77.15M480.01 77.15L485.51 71.65" stroke="#f59020" stroke-width="1.3" fill="none"/>
<path d="M503.29 71.65L508.79 77.15M503.29 77.15L508.79 71.65" stroke="#f59020" stroke-width="1.3" fill="none"/>
<path d="M526.57 71.65L532.07 77.15M526.57 77.15L532.07 71.65" stroke="#f59020" stroke-width="1.3" fill="none"/>
<path d="M549.85 71.65L555.35 77.15M549.85 77.15L555.35 71.65" stroke="#f59020" stroke-width="1.3" fill="none"/>
<path d="M573.13 71.65L578.63 77.15M573.13 77.15L578.63 71.65" stroke="#f59020" stroke-width="1.3" fill="none"/>
<path d="M596.41 71.65L601.91 77.15M596.41 77.15L601.91 71.65" stroke="#f59020" stroke-width="1.3" fill="none"/>
<path d="M619.69 71.65L625.19 77.15M619.69 77.15L625.19 71.65" stroke="#f59020" stroke-width="1.3" fill="none"/>
<path d="M642.97 71.65L648.47 77.15M642.97 77.15L648.47 71.65" stroke="#f59020" stroke-width="1.3" fill="none"/>
<path d="M666.25 71.65L671.75 77.15M666.25 77.15L671.75 71.65" stroke="#f59020" stroke-width="1.3" fill="none"/>
<path d="M441.68 83.76L454 93.54M460.05 104.88L482.19 376.72M489.52 385.53L499.28 388.17M513 390.75L522.36 391.75M536.32 392.53L545.6 392.57M559.6 392.6L568.88 392.6M582.88 392.6L592.16 392.6M606.16 392.6L615.44 392.6M629.44 392.6L638.72 392.6M652.72 392.6L662 392.6" stroke="#2fc42f" stroke-width="1.3" fill="none"/>
<path d="M431.75 79.4L440.65 79.4" stroke="#2fc42f" stroke-width="1.3" fill="none"/>
<polygon points="436.2,75.51 440.09,79.4 436.2,83.29 432.31,79.4" stroke="#2fc42f" stroke-width="1.3" fill="none"/>
<path d="M455.03 97.9L463.93 97.9" stroke="#2fc42f" stroke-width="1.3" fill="none"/>
<polygon points="459.48,94.01 463.37,97.9 459.48,101.79 455.59,97.9" stroke="#2fc42f" stroke-width="1.3" fill="none"/>
<path d="M478.31 383.7L487.21 383.7" stroke="#2fc42f" stroke-width="1.3" fill="none"/>
<polygon points="482.76,379.81 486.65,383.7 482.76,387.59 478.87,383.7" stroke="#2fc42f" stroke-width="1.3" fill="none"/>
<path d="M501.59 390L510.49 390" stroke="#2fc42f" stroke-width="1.3" fill="none"/>
<polygon points="506.04,386.11 509.93,390 506.04,393.89 502.15,390" stroke="#2fc42f" stroke-width="1.3" fill="none"/>
<path d="M524.87 392.5L533.77 392.5" stroke="#2fc42f" stroke-width="1.3" fill="none"/>
<polygon points="529.32,388.61 533.21,392.5 529.32,396.39 525.43,392.5" stroke="#2fc42f" stroke-width="1.3" fill="none"/>
<path d="M548.15 392.6L557.05 392.6" stroke="#2fc42f" stroke-width="1.3" fill="none"/>
<polygon points="552.6,388.71 556.49,392.6 552.6,396.49 548.71,392.6" stroke="#2fc42f" stroke-width="1.3" fill="none"/>
<path d="M571.43 392.6L580.33 392.6" stroke="#2fc42f" stroke-width="1.3" fill="none"/>
<polygon points="575.88,388.71 579.77,392.6 575.88,396.49 571.99,392.6" stroke="#2fc42f" stroke-width="1.3" fill="none"/>
<path d="M594.71 392.6L603.61 392.6" stroke="#2fc42f" stroke-width="1.3" fill="none"/>
<polygon points="599.16,388.71 603.05,392.6 599.16,396.49 595.27,392.6" stroke="#2fc42f" stroke-width="1.3" fill="none"/>
<path d="M617.99 392.6L626.89 392.6" stroke="#2fc42f" stroke-width="1.3" fill="none"/>
<polygon points="622.44,388.71 626.33,392.6 622.44,396.49 618.55,392.6" stroke="#2fc42f" stroke-width="1.3" fill="none"/>
<path d="M641.27 392.6L650.17 392.6" stroke="#2fc42f" stroke-width="1.3" fill="none"/>
<polygon points="645.72,388.71 649.61,392.6 645.72,396.49 641.83,392.6" stroke="#2fc42f" stroke-width="1.3" fill="none"/>
<path d="M664.55 392.6L673.45 392.6" stroke="#2fc42f" stroke-width="1.3" fill="none"/>
<polygon points="669,388.71 672.89,392.6 669,396.49 665.11,392.6" stroke="#2fc42f" stroke-width="1.3" fill="none"/>
<path d="M441.13 84.77L454.55 98.33M460.06 110.28L482.18 377.32M489.52 386.1L499.28 388.7M513.01 391.13L522.35 391.97M536.32 392.6L545.6 392.6M559.6 392.6L568.88 392.6M582.88 392.6L592.16 392.6M606.16 392.6L615.44 392.6M629.44 392.6L638.72 392.6M652.72 392.6L662 392.6" stroke="#1f8a1f" stroke-width="1.3" fill="none"/>
<path d="M431.75 79.8L440.65 79.8" stroke="#1f8a1f" stroke-width="1.3" fill="none"/>
<polygon points="436.2,84.08 439.9,77.66 432.5,77.66" stroke="#1f8a1f" stroke-width="1.3" fill="none"/>
<path d="M459.48 99.5L459.48 107M455.03 99.5L463.93 99.5M455.03 107L463.93 107" stroke="#1f8a1f" stroke-width="1.3" fill="none"/>
<polygon points="459.48,107.58 463.18,101.16 455.78,101.16" stroke="#1f8a1f" stroke-width="1.3" fill="none"/>
<path d="M478.31 384.3L487.21 384.3" stroke="#1f8a1f" stroke-width="1.3" fill="none"/>
<polygon points="482.76,388.58 486.46,382.16 479.06,382.16" stroke="#1f8a1f" stroke-width="1.3" fill="none"/>
<path d="M501.59 390.5L510.49 390.5" stroke="#1f8a1f" stroke-width="1.3" fill="none"/>
<polygon points="506.04,394.78 509.74,388.36 502.34,388.36" stroke="#1f8a1f" stroke-width="1.3" fill="none"/>
<path d="M524.87 392.6L533.77 392.6" stroke="#1f8a1f" stroke-width="1.3" fill="none"/>
<polygon points="529.32,396.88 533.02,390.46 525.62,390.46" stroke="#1f8a1f" stroke-width="1.3" fill="none"/>
<path d="M548.15 392.6L557.05 392.6" stroke="#1f8a1f" stroke-width="1.3" fill="none"/>
<polygon points="552.6,396.88 556.3,390.46 548.9,390.46" stroke="#1f8a1f" stroke-width="1.3" fill="none"/>
<path d="M571.43 392.6L580.33 392.6" stroke="#1f8a1f" stroke-width="1.3" fill="none"/>
<polygon points="575.88,396.88 579.58,390.46 572.18,390.46" stroke="#1f8a1f" stroke-width="1.3" fill="none"/>
<path d="M594.71 392.6L603.61 392.6" stroke="#1f8a1f" stroke-width="1.3" fill="none"/>
<polygon points="599.16,396.88 602.86,390.46 595.46,390.46" stroke="#1f8a1f" stroke-width="1.3" fill="none"/>
<path d="M617.99 392.6L626.89 392.6" stroke="#1f8a1f" stroke-width="1.3" fill="none"/>
<polygon points="622.44,396.88 626.14,390.46 618.74,390.46" stroke="#1f8a1f" stroke-width="1.3" fill="none"/>
<path d="M641.27 392.6L650.17 392.6" stroke="#1f8a1f" stroke-width="1.3" fill="none"/>
<polygon points="645.72,396.88 649.42,390.46 642.02,390.46" stroke="#1f8a1f" stroke-width="1.3" fill="none"/>
<path d="M664.55 392.6L673.45 392.6" stroke="#1f8a1f" stroke-width="1.3" fill="none"/>
<polygon points="669,396.88 672.7,390.46 665.3,390.46" stroke="#1f8a1f" stroke-width="1.3" fill="none"/>
<path d="M438.02 309.46L457.66 382.64M466.47 389.79L475.77 390.31M489.75 391.09L499.05 391.61M513.04 392.18L522.32 392.42M536.32 392.6L545.6 392.6M559.6 392.6L568.88 392.6M582.88 392.6L592.16 392.6M606.16 392.6L615.44 392.6M629.44 392.6L638.72 392.6M652.72 392.6L662 392.6" stroke="#8ad0ee" stroke-width="1.3" fill="none"/>
<path d="M431.75 302.7L440.65 302.7" stroke="#8ad0ee" stroke-width="1.3" fill="none"/>
<rect x="433.45" y="299.95" width="5.5" height="5.5" stroke="#8ad0ee" stroke-width="1.3" fill="none"/><path d="M433.45 299.95L438.95 305.45M433.45 305.45L438.95 299.95" stroke="#8ad0ee" stroke-width="1.3" fill="none"/>
<path d="M455.03 389.4L463.93 389.4" stroke="#8ad0ee" stroke-width="1.3" fill="none"/>
<rect x="456.73" y="386.65" width="5.5" height="5.5" stroke="#8ad0ee" stroke-width="1.3" fill="none"/><path d="M456.73 386.65L462.23 392.15M456.73 392.15L462.23 386.65" stroke="#8ad0ee" stroke-width="1.3" fill="none"/>
<path d="M478.31 390.7L487.21 390.7" stroke="#8ad0ee" stroke-width="1.3" fill="none"/>
<rect x="480.01" y="387.95" width="5.5" height="5.5" stroke="#8ad0ee" stroke-width="1.3" fill="none"/><path d="M480.01 387.95L485.51 393.45M480.01 393.45L485.51 387.95" stroke="#8ad0ee" stroke-width="1.3" fill="none"/>
<path d="M501.59 392L510.49 392" stroke="#8ad0ee" stroke-width="1.3" fill="none"/>
<rect x="503.29" y="389.25" width="5.5" height="5.5" stroke="#8ad0ee" stroke-width="1.3" fill="none"/><path d="M503.29 389.25L508.79 394.75M503.29 394.75L508.79 389.25" stroke="#8ad0ee" stroke-width="1.3" fill="none"/>
<path d="M524.87 392.6L533.77 392.6" stroke="#8ad0ee" stroke-width="1.3" fill="none"/>
<rect x="526.57" y="389.85" width="5.5" height="5.5" stroke="#8ad0ee" stroke-width="1.3" fill="none"/><path d="M526.57 389.85L532.07 395.35M526.57 395.35L532.07 389.85" stroke="#8ad0ee" stroke-width="1.3" fill="none"/>
<path d="M548.15 392.6L557.05 392.6" stroke="#8ad0ee" stroke-width="1.3" fill="none"/>
<rect x="549.85" y="389.85" width="5.5" height="5.5" stroke="#8ad0ee" stroke-width="1.3" fill="none"/><path d="M549.85 389.85L555.35 395.35M549.85 395.35L555.35 389.85" stroke="#8ad0ee" stroke-width="1.3" fill="none"/>
<path d="M571.43 392.6L580.33 392.6" stroke="#8ad0ee" stroke-width="1.3" fill="none"/>
<rect x="573.13" y="389.85" width="5.5" height="5.5" stroke="#8ad0ee" stroke-width="1.3" fill="none"/><path d="M573.13 389.85L578.63 395.35M573.13 395.35L578.63 389.85" stroke="#8ad0ee" stroke-width="1.3" fill="none"/>
<path d="M594.71 392.6L603.61 392.6" stroke="#8ad0ee" stroke-width="1.3" fill="none"/>
<rect x="596.41" y="389.85" width="5.5" height="5.5" stroke="#8ad0ee" stroke-width="1.3" fill="none"/><path d="M596.41 389.85L601.91 395.35M596.41 395.35L601.91 389.85" stroke="#8ad0ee" stroke-width="1.3" fill="none"/>
<path d="M617.99 392.6L626.89 392.6" stroke="#8ad0ee" stroke-width="1.3" fill="none"/>
<rect x="619.69" y="389.85" width="5.5" height="5.5" stroke="#8ad0ee" stroke-width="1.3" fill="none"/><path d="M619.69 389.85L625.19 395.35M619.69 395.35L625.19 389.85" stroke="#8ad0ee" stroke-width="1.3" fill="none"/>
<path d="M641.27 392.6L650.17 392.6" stroke="#8ad0ee" stroke-width="1.3" fill="none"/>
<rect x="642.97" y="389.85" width="5.5" height="5.5" stroke="#8ad0ee" stroke-width="1.3" fill="none"/><path d="M642.97 389.85L648.47 395.35M642.97 395.35L648.47 389.85" stroke="#8ad0ee" stroke-width="1.3" fill="none"/>
<path d="M664.55 392.6L673.45 392.6" stroke="#8ad0ee" stroke-width="1.3" fill="none"/>
<rect x="666.25" y="389.85" width="5.5" height="5.5" stroke="#8ad0ee" stroke-width="1.3" fill="none"/><path d="M666.25 389.85L671.75 395.35M666.25 395.35L671.75 389.85" stroke="#8ad0ee" stroke-width="1.3" fill="none"/>
<path d="M437.16 104.13L458.52 259.17M461.15 272.9L481.09 354M489.35 363.15L499.45 366.75M513.03 369.49L522.33 370.01M536.31 370.01L545.61 369.49M559.52 370.17L568.96 371.63M582.87 372.25L592.17 371.65M605.98 372.78L615.62 375.02M629 374.15L639.16 370.35M652.42 369.92L662.3 372.88" stroke="#1c1ccc" stroke-width="1.3" fill="none"/>
<path d="M431.75 97.2L440.65 97.2" stroke="#1c1ccc" stroke-width="1.3" fill="none"/>
<path d="M433.45 94.45L438.95 99.95M433.45 99.95L438.95 94.45M432.31 97.2L440.09 97.2M436.2 93.31L436.2 101.09" stroke="#1c1ccc" stroke-width="1.3" fill="none"/>
<path d="M455.03 266.1L463.93 266.1" stroke="#1c1ccc" stroke-width="1.3" fill="none"/>
<path d="M456.73 263.35L462.23 268.85M456.73 268.85L462.23 263.35M455.59 266.1L463.37 266.1M459.48 262.21L459.48 269.99" stroke="#1c1ccc" stroke-width="1.3" fill="none"/>
<path d="M478.31 360.8L487.21 360.8" stroke="#1c1ccc" stroke-width="1.3" fill="none"/>
<path d="M480.01 358.05L485.51 363.55M480.01 363.55L485.51 358.05M478.87 360.8L486.65 360.8M482.76 356.91L482.76 364.69" stroke="#1c1ccc" stroke-width="1.3" fill="none"/>
<path d="M501.59 369.1L510.49 369.1" stroke="#1c1ccc" stroke-width="1.3" fill="none"/>
<path d="M503.29 366.35L508.79 371.85M503.29 371.85L508.79 366.35M502.15 369.1L509.93 369.1M506.04 365.21L506.04 372.99" stroke="#1c1ccc" stroke-width="1.3" fill="none"/>
<path d="M524.87 370.4L533.77 370.4" stroke="#1c1ccc" stroke-width="1.3" fill="none"/>
<path d="M526.57 367.65L532.07 373.15M526.57 373.15L532.07 367.65M525.43 370.4L533.21 370.4M529.32 366.51L529.32 374.29" stroke="#1c1ccc" stroke-width="1.3" fill="none"/>
<path d="M548.15 369.1L557.05 369.1" stroke="#1c1ccc" stroke-width="1.3" fill="none"/>
<path d="M549.85 366.35L555.35 371.85M549.85 371.85L555.35 366.35M548.71 369.1L556.49 369.1M552.6 365.21L552.6 372.99" stroke="#1c1ccc" stroke-width="1.3" fill="none"/>
<path d="M571.43 372.7L580.33 372.7" stroke="#1c1ccc" stroke-width="1.3" fill="none"/>
<path d="M573.13 369.95L578.63 375.45M573.13 375.45L578.63 369.95M571.99 372.7L579.77 372.7M575.88 368.81L575.88 376.59" stroke="#1c1ccc" stroke-width="1.3" fill="none"/>
<path d="M599.16 367.6L599.16 374.8M594.71 367.6L603.61 367.6M594.71 374.8L603.61 374.8" stroke="#1c1ccc" stroke-width="1.3" fill="none"/>
<path d="M596.41 368.45L601.91 373.95M596.41 373.95L601.91 368.45M595.27 371.2L603.05 371.2M599.16 367.31L599.16 375.09" stroke="#1c1ccc" stroke-width="1.3" fill="none"/>
<path d="M622.44 373.6L622.44 382.1M617.99 373.6L626.89 373.6M617.99 382.1L626.89 382.1" stroke="#1c1ccc" stroke-width="1.3" fill="none"/>
<path d="M619.69 373.85L625.19 379.35M619.69 379.35L625.19 373.85M618.55 376.6L626.33 376.6M622.44 372.71L622.44 380.49" stroke="#1c1ccc" stroke-width="1.3" fill="none"/>
<path d="M645.72 365.1L645.72 370.7M641.27 365.1L650.17 365.1M641.27 370.7L650.17 370.7" stroke="#1c1ccc" stroke-width="1.3" fill="none"/>
<path d="M642.97 365.15L648.47 370.65M642.97 370.65L648.47 365.15M641.83 367.9L649.61 367.9M645.72 364.01L645.72 371.79" stroke="#1c1ccc" stroke-width="1.3" fill="none"/>
<path d="M669 373.4L669 376.4M664.55 373.4L673.45 373.4M664.55 376.4L673.45 376.4" stroke="#1c1ccc" stroke-width="1.3" fill="none"/>
<path d="M666.25 372.15L671.75 377.65M666.25 377.65L671.75 372.15M665.11 374.9L672.89 374.9M669 371.01L669 378.79" stroke="#1c1ccc" stroke-width="1.3" fill="none"/>
<path d="M437.61 149.76L458.07 249.04M461.06 262.72L481.18 349.48M487.9 361.05L500.9 373.05M513.03 378.16L522.33 378.64M536.32 379L545.6 379M559.6 379.18L568.88 379.42M582.88 379.63L592.16 379.67M606.16 379.7L615.44 379.7M629.42 379.22L638.74 378.58M652.7 378.64L662.02 379.36" stroke="#8a2be2" stroke-width="1.3" fill="none"/>
<path d="M431.75 142.9L440.65 142.9" stroke="#8a2be2" stroke-width="1.3" fill="none"/>
<polygon points="436.2,139.01 440.09,142.9 436.2,146.79 432.31,142.9" stroke="#8a2be2" stroke-width="1.3" fill="none"/><path d="M432.31 142.9L440.09 142.9M436.2 139.01L436.2 146.79" stroke="#8a2be2" stroke-width="1.3" fill="none"/>
<path d="M455.03 255.9L463.93 255.9" stroke="#8a2be2" stroke-width="1.3" fill="none"/>
<polygon points="459.48,252.01 463.37,255.9 459.48,259.79 455.59,255.9" stroke="#8a2be2" stroke-width="1.3" fill="none"/><path d="M455.59 255.9L463.37 255.9M459.48 252.01L459.48 259.79" stroke="#8a2be2" stroke-width="1.3" fill="none"/>
<path d="M478.31 356.3L487.21 356.3" stroke="#8a2be2" stroke-width="1.3" fill="none"/>
<polygon points="482.76,352.41 486.65,356.3 482.76,360.19 478.87,356.3" stroke="#8a2be2" stroke-width="1.3" fill="none"/><path d="M478.87 356.3L486.65 356.3M482.76 352.41L482.76 360.19" stroke="#8a2be2" stroke-width="1.3" fill="none"/>
<path d="M501.59 377.8L510.49 377.8" stroke="#8a2be2" stroke-width="1.3" fill="none"/>
<polygon points="506.04,373.91 509.93,377.8 506.04,381.69 502.15,377.8" stroke="#8a2be2" stroke-width="1.3" fill="none"/><path d="M502.15 377.8L509.93 377.8M506.04 373.91L506.04 381.69" stroke="#8a2be2" stroke-width="1.3" fill="none"/>
<path d="M524.87 379L533.77 379" stroke="#8a2be2" stroke-width="1.3" fill="none"/>
<polygon points="529.32,375.11 533.21,379 529.32,382.89 525.43,379" stroke="#8a2be2" stroke-width="1.3" fill="none"/><path d="M525.43 379L533.21 379M529.32 375.11L529.32 382.89" stroke="#8a2be2" stroke-width="1.3" fill="none"/>
<path d="M548.15 379L557.05 379" stroke="#8a2be2" stroke-width="1.3" fill="none"/>
<polygon points="552.6,375.11 556.49,379 552.6,382.89 548.71,379" stroke="#8a2be2" stroke-width="1.3" fill="none"/><path d="M548.71 379L556.49 379M552.6 375.11L552.6 382.89" stroke="#8a2be2" stroke-width="1.3" fill="none"/>
<path d="M571.43 379.6L580.33 379.6" stroke="#8a2be2" stroke-width="1.3" fill="none"/>
<polygon points="575.88,375.71 579.77,379.6 575.88,383.49 571.99,379.6" stroke="#8a2be2" stroke-width="1.3" fill="none"/><path d="M571.99 379.6L579.77 379.6M575.88 375.71L575.88 383.49" stroke="#8a2be2" stroke-width="1.3" fill="none"/>
<path d="M594.71 379.7L603.61 379.7" stroke="#8a2be2" stroke-width="1.3" fill="none"/>
<polygon points="599.16,375.81 603.05,379.7 599.16,383.59 595.27,379.7" stroke="#8a2be2" stroke-width="1.3" fill="none"/><path d="M595.27 379.7L603.05 379.7M599.16 375.81L599.16 383.59" stroke="#8a2be2" stroke-width="1.3" fill="none"/>
<path d="M617.99 379.7L626.89 379.7" stroke="#8a2be2" stroke-width="1.3" fill="none"/>
<polygon points="622.44,375.81 626.33,379.7 622.44,383.59 618.55,379.7" stroke="#8a2be2" stroke-width="1.3" fill="none"/><path d="M618.55 379.7L626.33 379.7M622.44 375.81L622.44 383.59" stroke="#8a2be2" stroke-width="1.3" fill="none"/>
<path d="M641.27 378.1L650.17 378.1" stroke="#8a2be2" stroke-width="1.3" fill="none"/>
<polygon points="645.72,374.21 649.61,378.1 645.72,381.99 641.83,378.1" stroke="#8a2be2" stroke-width="1.3" fill="none"/><path d="M641.83 378.1L649.61 378.1M645.72 374.21L645.72 381.99" stroke="#8a2be2" stroke-width="1.3" fill="none"/>
<path d="M669 378.3L669 381.4M664.55 378.3L673.45 378.3M664.55 381.4L673.45 381.4" stroke="#8a2be2" stroke-width="1.3" fill="none"/>
<polygon points="669,376.01 672.89,379.9 669,383.79 665.11,379.9" stroke="#8a2be2" stroke-width="1.3" fill="none"/><path d="M665.11 379.9L672.89 379.9M669 376.01L669 383.79" stroke="#8a2be2" stroke-width="1.3" fill="none"/>
<path d="M437.11 81.34L458.57 245.16M462.25 258.53L479.99 299.77M484.58 312.96L504.22 385.84M513.04 392.6L522.32 392.6M536.32 392.63L545.6 392.67M559.6 392.7L568.88 392.7M582.88 392.7L592.16 392.7M606.16 392.7L615.44 392.7M629.44 392.7L638.72 392.7M652.72 392.7L662 392.7" stroke="#dc6d96" stroke-width="1.3" fill="none"/>
<circle cx="436.2" cy="74.4" r="2.75" stroke="#dc6d96" stroke-width="1.3" fill="none"/><path d="M433.45 74.4L438.95 74.4M436.2 71.65L436.2 77.15" stroke="#dc6d96" stroke-width="1.3" fill="none"/>
<path d="M459.48 249.2L459.48 255M455.03 249.2L463.93 249.2M455.03 255L463.93 255" stroke="#dc6d96" stroke-width="1.3" fill="none"/>
<circle cx="459.48" cy="252.1" r="2.75" stroke="#dc6d96" stroke-width="1.3" fill="none"/><path d="M456.73 252.1L462.23 252.1M459.48 249.35L459.48 254.85" stroke="#dc6d96" stroke-width="1.3" fill="none"/>
<path d="M482.76 295.7L482.76 317.1M478.31 295.7L487.21 295.7M478.31 317.1L487.21 317.1" stroke="#dc6d96" stroke-width="1.3" fill="none"/>
<circle cx="482.76" cy="306.2" r="2.75" stroke="#dc6d96" stroke-width="1.3" fill="none"/><path d="M480.01 306.2L485.51 306.2M482.76 303.45L482.76 308.95" stroke="#dc6d96" stroke-width="1.3" fill="none"/>
<path d="M506.04 388.4L506.04 393M501.59 388.4L510.49 388.4M501.59 393L510.49 393" stroke="#dc6d96" stroke-width="1.3" fill="none"/>
<circle cx="506.04" cy="392.6" r="2.75" stroke="#dc6d96" stroke-width="1.3" fill="none"/><path d="M503.29 392.6L508.79 392.6M506.04 389.85L506.04 395.35" stroke="#dc6d96" stroke-width="1.3" fill="none"/>
<path d="M524.87 392.6L533.77 392.6" stroke="#dc6d96" stroke-width="1.3" fill="none"/>
<circle cx="529.32" cy="392.6" r="2.75" stroke="#dc6d96" stroke-width="1.3" fill="none"/><path d="M526.57 392.6L532.07 392.6M529.32 389.85L529.32 395.35" stroke="#dc6d96" stroke-width="1.3" fill="none"/>
<path d="M548.15 392.7L557.05 392.7" stroke="#dc6d96" stroke-width="1.3" fill="none"/>
<circle cx="552.6" cy="392.7" r="2.75" stroke="#dc6d96" stroke-width="1.3" fill="none"/><path d="M549.85 392.7L555.35 392.7M552.6 389.95L552.6 395.45" stroke="#dc6d96" stroke-width="1.3" fill="none"/>
<path d="M571.43 392.7L580.33 392.7" stroke="#dc6d96" stroke-width="1.3" fill="none"/>
<circle cx="575.88" cy="392.7" r="2.75" stroke="#dc6d96" stroke-width="1.3" fill="none"/><path d="M573.13 392.7L578.63 392.7M575.88 389.95L575.88 395.45" stroke="#dc6d96" stroke-width="1.3" fill="none"/>
<path d="M594.71 392.7L603.61 392.7" stroke="#dc6d96" stroke-width="1.3" fill="none"/>
<circle cx="599.16" cy="392.7" r="2.75" stroke="#dc6d96" stroke-width="1.3" fill="none"/><path d="M596.41 392.7L601.91 392.7M599.16 389.95L599.16 395.45" stroke="#dc6d96" stroke-width="1.3" fill="none"/>
<path d="M617.99 392.7L626.89 392.7" stroke="#dc6d96" stroke-width="1.3" fill="none"/>
<circle cx="622.44" cy="392.7" r="2.75" stroke="#dc6d96" stroke-width="1.3" fill="none"/><path d="M619.69 392.7L625.19 392.7M622.44 389.95L622.44 395.45" stroke="#dc6d96" stroke-width="1.3" fill="none"/>
<path d="M641.27 392.7L650.17 392.7" stroke="#dc6d96" stroke-width="1.3" fill="none"/>
<circle cx="645.72" cy="392.7" r="2.75" stroke="#dc6d96" stroke-width="1.3" fill="none"/><path d="M642.97 392.7L648.47 392.7M645.72 389.95L645.72 395.45" stroke="#dc6d96" stroke-width="1.3" fill="none"/>
<path d="M664.55 392.7L673.45 392.7" stroke="#dc6d96" stroke-width="1.3" fill="none"/>
<circle cx="669" cy="392.7" r="2.75" stroke="#dc6d96" stroke-width="1.3" fill="none"/><path d="M666.25 392.7L671.75 392.7M669 389.95L669 395.45" stroke="#dc6d96" stroke-width="1.3" fill="none"/>
<rect x="426.7" y="62" width="251.1" height="343.8" stroke="#000" stroke-width="1.3" fill="none"/>
<path d="M435.6 405.8L435.6 414M458.9 405.8L458.9 414M482.2 405.8L482.2 414M505.5 405.8L505.5 414M528.8 405.8L528.8 414M552.1 405.8L552.1 414M575.4 405.8L575.4 414M598.7 405.8L598.7 414M622 405.8L622 414M645.3 405.8L645.3 414M668.6 405.8L668.6 414" stroke="#000" stroke-width="1.2"/>
<text x="435.1" y="433.5" text-anchor="middle" font-size="10.3" stroke-width="0">.25</text>
<text x="458.4" y="433.5" text-anchor="middle" font-size="10.3" stroke-width="0">.50</text>
<text x="481.7" y="433.5" text-anchor="middle" font-size="10.3" stroke-width="0">.75</text>
<text x="505" y="433.5" text-anchor="middle" font-size="10.3" stroke-width="0">1.00</text>
<text x="528.3" y="433.5" text-anchor="middle" font-size="10.3" stroke-width="0">1.25</text>
<text x="551.6" y="433.5" text-anchor="middle" font-size="10.3" stroke-width="0">1.50</text>
<text x="574.9" y="433.5" text-anchor="middle" font-size="10.3" stroke-width="0">1.75</text>
<text x="598.2" y="433.5" text-anchor="middle" font-size="10.3" stroke-width="0">2.00</text>
<text x="621.5" y="433.5" text-anchor="middle" font-size="10.3" stroke-width="0">3.00</text>
<text x="644.8" y="433.5" text-anchor="middle" font-size="10.3" stroke-width="0">4.00</text>
<text x="668.1" y="433.5" text-anchor="middle" font-size="10.3" stroke-width="0">5.00</text>
<path d="M418.9 392.8L426.7 392.8M418.9 329.12L426.7 329.12M418.9 265.44L426.7 265.44M418.9 201.76L426.7 201.76M418.9 138.08L426.7 138.08M418.9 74.4L426.7 74.4" stroke="#000" stroke-width="1.2"/>
<text transform="translate(408 392.8) rotate(-90)" text-anchor="middle" font-size="11.8" stroke-width="0.1">0.0</text>
<text transform="translate(408 329.12) rotate(-90)" text-anchor="middle" font-size="11.8" stroke-width="0.1">0.2</text>
<text transform="translate(408 265.44) rotate(-90)" text-anchor="middle" font-size="11.8" stroke-width="0.1">0.4</text>
<text transform="translate(408 201.76) rotate(-90)" text-anchor="middle" font-size="11.8" stroke-width="0.1">0.6</text>
<text transform="translate(408 138.08) rotate(-90)" text-anchor="middle" font-size="11.8" stroke-width="0.1">0.8</text>
<text transform="translate(408 74.4) rotate(-90)" text-anchor="middle" font-size="11.8" stroke-width="0.1">1.0</text>
<text x="424.6" y="55.8" font-size="18" stroke-width="0.4">B</text>
<path d="M144.4 475.5L153.69 475.5M167.69 475.5L176.98 475.5M190.98 475.5L200.27 475.5M214.27 475.5L223.56 475.5M237.56 475.5L246.85 475.5M260.85 475.5L270.14 475.5M284.14 475.5L293.43 475.5M307.43 475.5L316.72 475.5M330.72 475.5L340.01 475.5M354.01 475.5L363.3 475.5" stroke="#000000" stroke-width="1.3" fill="none"/>
<rect x="134.65" y="472.75" width="5.5" height="5.5" stroke="#000000" stroke-width="1.3" fill="none"/>
<rect x="157.94" y="472.75" width="5.5" height="5.5" stroke="#000000" stroke-width="1.3" fill="none"/>
<rect x="181.23" y="472.75" width="5.5" height="5.5" stroke="#000000" stroke-width="1.3" fill="none"/>
<rect x="204.52" y="472.75" width="5.5" height="5.5" stroke="#000000" stroke-width="1.3" fill="none"/>
<rect x="227.81" y="472.75" width="5.5" height="5.5" stroke="#000000" stroke-width="1.3" fill="none"/>
<rect x="251.1" y="472.75" width="5.5" height="5.5" stroke="#000000" stroke-width="1.3" fill="none"/>
<rect x="274.39" y="472.75" width="5.5" height="5.5" stroke="#000000" stroke-width="1.3" fill="none"/>
<rect x="297.68" y="472.75" width="5.5" height="5.5" stroke="#000000" stroke-width="1.3" fill="none"/>
<rect x="320.97" y="472.75" width="5.5" height="5.5" stroke="#000000" stroke-width="1.3" fill="none"/>
<rect x="344.26" y="472.75" width="5.5" height="5.5" stroke="#000000" stroke-width="1.3" fill="none"/>
<rect x="367.55" y="472.75" width="5.5" height="5.5" stroke="#000000" stroke-width="1.3" fill="none"/>
<path d="M144.4 475.5L153.69 475.5M167.69 475.5L176.98 475.5M190.98 475.5L200.27 475.5M214.27 475.5L223.56 475.5M237.56 475.5L246.85 475.5M260.85 475.5L270.14 475.5M284.14 475.5L293.43 475.5M307.43 475.5L316.72 475.5M330.72 475.5L340.01 475.5M354.01 475.5L363.3 475.5" stroke="#8e97a3" stroke-width="1.3" fill="none"/>
<circle cx="137.4" cy="475.5" r="2.75" stroke="#8e97a3" stroke-width="1.3" fill="none"/>
<circle cx="160.69" cy="475.5" r="2.75" stroke="#8e97a3" stroke-width="1.3" fill="none"/>
<circle cx="183.98" cy="475.5" r="2.75" stroke="#8e97a3" stroke-width="1.3" fill="none"/>
<circle cx="207.27" cy="475.5" r="2.75" stroke="#8e97a3" stroke-width="1.3" fill="none"/>
<circle cx="230.56" cy="475.5" r="2.75" stroke="#8e97a3" stroke-width="1.3" fill="none"/>
<circle cx="253.85" cy="475.5" r="2.75" stroke="#8e97a3" stroke-width="1.3" fill="none"/>
<circle cx="277.14" cy="475.5" r="2.75" stroke="#8e97a3" stroke-width="1.3" fill="none"/>
<circle cx="300.43" cy="475.5" r="2.75" stroke="#8e97a3" stroke-width="1.3" fill="none"/>
<circle cx="323.72" cy="475.5" r="2.75" stroke="#8e97a3" stroke-width="1.3" fill="none"/>
<circle cx="347.01" cy="475.5" r="2.75" stroke="#8e97a3" stroke-width="1.3" fill="none"/>
<circle cx="370.3" cy="475.5" r="2.75" stroke="#8e97a3" stroke-width="1.3" fill="none"/>
<path d="M144.4 475.5L153.69 475.5M167.69 475.5L176.98 475.5M190.98 475.5L200.27 475.5M214.27 475.5L223.56 475.5M237.56 475.5L246.85 475.5M260.85 475.5L270.14 475.5M284.14 475.5L293.43 475.5M307.43 475.5L316.72 475.5M330.72 475.5L340.01 475.5M354.01 475.5L363.3 475.5" stroke="#8b1a24" stroke-width="1.3" fill="none"/>
<polygon points="137.4,471.22 141.1,477.64 133.7,477.64" stroke="#8b1a24" stroke-width="1.3" fill="none"/>
<polygon points="160.69,471.22 164.39,477.64 156.99,477.64" stroke="#8b1a24" stroke-width="1.3" fill="none"/>
<polygon points="183.98,471.22 187.68,477.64 180.28,477.64" stroke="#8b1a24" stroke-width="1.3" fill="none"/>
<polygon points="207.27,471.22 210.97,477.64 203.57,477.64" stroke="#8b1a24" stroke-width="1.3" fill="none"/>
<polygon points="230.56,471.22 234.26,477.64 226.86,477.64" stroke="#8b1a24" stroke-width="1.3" fill="none"/>
<polygon points="253.85,471.22 257.55,477.64 250.15,477.64" stroke="#8b1a24" stroke-width="1.3" fill="none"/>
<polygon points="277.14,471.22 280.84,477.64 273.44,477.64" stroke="#8b1a24" stroke-width="1.3" fill="none"/>
<polygon points="300.43,471.22 304.13,477.64 296.73,477.64" stroke="#8b1a24" stroke-width="1.3" fill="none"/>
<polygon points="323.72,471.22 327.42,477.64 320.02,477.64" stroke="#8b1a24" stroke-width="1.3" fill="none"/>
<polygon points="347.01,471.22 350.71,477.64 343.31,477.64" stroke="#8b1a24" stroke-width="1.3" fill="none"/>
<polygon points="370.3,471.22 374,477.64 366.6,477.64" stroke="#8b1a24" stroke-width="1.3" fill="none"/>
<path d="M144.4 475.5L153.69 475.5M167.69 475.5L176.98 475.5M190.98 475.5L200.27 475.5M214.27 475.5L223.56 475.5M237.56 475.5L246.85 475.5M260.85 475.5L270.14 475.5M284.14 475.5L293.43 475.5M307.43 475.5L316.72 475.5M330.72 475.5L340.01 475.5M354.01 475.5L363.3 475.5" stroke="#cc2a22" stroke-width="1.3" fill="none"/>
<path d="M133.51 475.5L141.29 475.5M137.4 471.61L137.4 479.39" stroke="#cc2a22" stroke-width="1.3" fill="none"/>
<path d="M156.8 475.5L164.58 475.5M160.69 471.61L160.69 479.39" stroke="#cc2a22" stroke-width="1.3" fill="none"/>
<path d="M180.09 475.5L187.87 475.5M183.98 471.61L183.98 479.39" stroke="#cc2a22" stroke-width="1.3" fill="none"/>
<path d="M203.38 475.5L211.16 475.5M207.27 471.61L207.27 479.39" stroke="#cc2a22" stroke-width="1.3" fill="none"/>
<path d="M226.67 475.5L234.45 475.5M230.56 471.61L230.56 479.39" stroke="#cc2a22" stroke-width="1.3" fill="none"/>
<path d="M249.96 475.5L257.74 475.5M253.85 471.61L253.85 479.39" stroke="#cc2a22" stroke-width="1.3" fill="none"/>
<path d="M273.25 475.5L281.03 475.5M277.14 471.61L277.14 479.39" stroke="#cc2a22" stroke-width="1.3" fill="none"/>
<path d="M296.54 475.5L304.32 475.5M300.43 471.61L300.43 479.39" stroke="#cc2a22" stroke-width="1.3" fill="none"/>
<path d="M319.83 475.5L327.61 475.5M323.72 471.61L323.72 479.39" stroke="#cc2a22" stroke-width="1.3" fill="none"/>
<path d="M343.12 475.5L350.9 475.5M347.01 471.61L347.01 479.39" stroke="#cc2a22" stroke-width="1.3" fill="none"/>
<path d="M366.41 475.5L374.19 475.5M370.3 471.61L370.3 479.39" stroke="#cc2a22" stroke-width="1.3" fill="none"/>
<path d="M144.4 475.5L153.69 475.5M167.69 475.5L176.98 475.5M190.98 475.5L200.27 475.5M214.27 475.5L223.56 475.5M237.56 475.5L246.85 475.5M260.85 475.5L270.14 475.5M284.14 475.5L293.43 475.5M307.43 475.5L316.72 475.5M330.72 475.5L340.01 475.5M354.01 475.5L363.3 475.5" stroke="#f59020" stroke-width="1.3" fill="none"/>
<path d="M134.65 472.75L140.15 478.25M134.65 478.25L140.15 472.75" stroke="#f59020" stroke-width="1.3" fill="none"/>
<path d="M157.94 472.75L163.44 478.25M157.94 478.25L163.44 472.75" stroke="#f59020" stroke-width="1.3" fill="none"/>
<path d="M181.23 472.75L186.73 478.25M181.23 478.25L186.73 472.75" stroke="#f59020" stroke-width="1.3" fill="none"/>
<path d="M204.52 472.75L210.02 478.25M204.52 478.25L210.02 472.75" stroke="#f59020" stroke-width="1.3" fill="none"/>
<path d="M227.81 472.75L233.31 478.25M227.81 478.25L233.31 472.75" stroke="#f59020" stroke-width="1.3" fill="none"/>
<path d="M251.1 472.75L256.6 478.25M251.1 478.25L256.6 472.75" stroke="#f59020" stroke-width="1.3" fill="none"/>
<path d="M274.39 472.75L279.89 478.25M274.39 478.25L279.89 472.75" stroke="#f59020" stroke-width="1.3" fill="none"/>
<path d="M297.68 472.75L303.18 478.25M297.68 478.25L303.18 472.75" stroke="#f59020" stroke-width="1.3" fill="none"/>
<path d="M320.97 472.75L326.47 478.25M320.97 478.25L326.47 472.75" stroke="#f59020" stroke-width="1.3" fill="none"/>
<path d="M344.26 472.75L349.76 478.25M344.26 478.25L349.76 472.75" stroke="#f59020" stroke-width="1.3" fill="none"/>
<path d="M367.55 472.75L373.05 478.25M367.55 478.25L373.05 472.75" stroke="#f59020" stroke-width="1.3" fill="none"/>
<path d="M144.4 475.5L153.69 475.5M167.62 476.48L177.05 477.82M190.51 481.32L200.74 485.28M212.35 492.62L225.48 505.08M233.39 516.3L251.02 556.3M255.9 569.39L275.09 632.11M279.73 645.3L297.84 690.7M302.66 703.84L321.49 759.86M329.72 770.11L341.01 776.89M353.9 781.74L363.41 783.46" stroke="#2fc42f" stroke-width="1.3" fill="none"/>
<polygon points="137.4,471.61 141.29,475.5 137.4,479.39 133.51,475.5" stroke="#2fc42f" stroke-width="1.3" fill="none"/>
<polygon points="160.69,471.61 164.58,475.5 160.69,479.39 156.8,475.5" stroke="#2fc42f" stroke-width="1.3" fill="none"/>
<path d="M179.53 478.8L188.43 478.8" stroke="#2fc42f" stroke-width="1.3" fill="none"/>
<polygon points="183.98,474.91 187.87,478.8 183.98,482.69 180.09,478.8" stroke="#2fc42f" stroke-width="1.3" fill="none"/>
<path d="M202.82 487.8L211.72 487.8" stroke="#2fc42f" stroke-width="1.3" fill="none"/>
<polygon points="207.27,483.91 211.16,487.8 207.27,491.69 203.38,487.8" stroke="#2fc42f" stroke-width="1.3" fill="none"/>
<path d="M226.11 509.9L235.01 509.9" stroke="#2fc42f" stroke-width="1.3" fill="none"/>
<polygon points="230.56,506.01 234.45,509.9 230.56,513.79 226.67,509.9" stroke="#2fc42f" stroke-width="1.3" fill="none"/>
<path d="M253.85 559.7L253.85 565.7M249.4 559.7L258.3 559.7M249.4 565.7L258.3 565.7" stroke="#2fc42f" stroke-width="1.3" fill="none"/>
<polygon points="253.85,558.81 257.74,562.7 253.85,566.59 249.96,562.7" stroke="#2fc42f" stroke-width="1.3" fill="none"/>
<path d="M277.14 635.8L277.14 641.8M272.69 635.8L281.59 635.8M272.69 641.8L281.59 641.8" stroke="#2fc42f" stroke-width="1.3" fill="none"/>
<polygon points="277.14,634.91 281.03,638.8 277.14,642.69 273.25,638.8" stroke="#2fc42f" stroke-width="1.3" fill="none"/>
<path d="M300.43 694.2L300.43 700.2M295.98 694.2L304.88 694.2M295.98 700.2L304.88 700.2" stroke="#2fc42f" stroke-width="1.3" fill="none"/>
<polygon points="300.43,693.31 304.32,697.2 300.43,701.09 296.54,697.2" stroke="#2fc42f" stroke-width="1.3" fill="none"/>
<path d="M319.27 766.5L328.17 766.5" stroke="#2fc42f" stroke-width="1.3" fill="none"/>
<polygon points="323.72,762.61 327.61,766.5 323.72,770.39 319.83,766.5" stroke="#2fc42f" stroke-width="1.3" fill="none"/>
<path d="M342.56 780.5L351.46 780.5" stroke="#2fc42f" stroke-width="1.3" fill="none"/>
<polygon points="347.01,776.61 350.9,780.5 347.01,784.39 343.12,780.5" stroke="#2fc42f" stroke-width="1.3" fill="none"/>
<path d="M365.85 784.7L374.75 784.7" stroke="#2fc42f" stroke-width="1.3" fill="none"/>
<polygon points="370.3,780.81 374.19,784.7 370.3,788.59 366.41,784.7" stroke="#2fc42f" stroke-width="1.3" fill="none"/>
<path d="M144.4 475.5L153.69 475.5M167.61 476.54L177.06 477.96M190.51 481.52L200.74 485.48M211.18 493.81L226.65 516.79M232.8 529.23L251.61 584.97M255.85 598.31L275.14 663.19M280.02 676.28L297.55 715.22M303.27 728L320.88 767.7M330.22 776.7L340.51 780.8M353.94 784.35L363.37 785.65" stroke="#1f8a1f" stroke-width="1.3" fill="none"/>
<polygon points="137.4,479.78 141.1,473.36 133.7,473.36" stroke="#1f8a1f" stroke-width="1.3" fill="none"/>
<polygon points="160.69,479.78 164.39,473.36 156.99,473.36" stroke="#1f8a1f" stroke-width="1.3" fill="none"/>
<path d="M179.53 479L188.43 479" stroke="#1f8a1f" stroke-width="1.3" fill="none"/>
<polygon points="183.98,483.28 187.68,476.86 180.28,476.86" stroke="#1f8a1f" stroke-width="1.3" fill="none"/>
<path d="M202.82 488L211.72 488" stroke="#1f8a1f" stroke-width="1.3" fill="none"/>
<polygon points="207.27,492.28 210.97,485.86 203.57,485.86" stroke="#1f8a1f" stroke-width="1.3" fill="none"/>
<path d="M230.56 519.6L230.56 525.6M226.11 519.6L235.01 519.6M226.11 525.6L235.01 525.6" stroke="#1f8a1f" stroke-width="1.3" fill="none"/>
<polygon points="230.56,526.88 234.26,520.46 226.86,520.46" stroke="#1f8a1f" stroke-width="1.3" fill="none"/>
<path d="M253.85 588.6L253.85 594.6M249.4 588.6L258.3 588.6M249.4 594.6L258.3 594.6" stroke="#1f8a1f" stroke-width="1.3" fill="none"/>
<polygon points="253.85,595.88 257.55,589.46 250.15,589.46" stroke="#1f8a1f" stroke-width="1.3" fill="none"/>
<path d="M277.14 666.9L277.14 672.9M272.69 666.9L281.59 666.9M272.69 672.9L281.59 672.9" stroke="#1f8a1f" stroke-width="1.3" fill="none"/>
<polygon points="277.14,674.18 280.84,667.76 273.44,667.76" stroke="#1f8a1f" stroke-width="1.3" fill="none"/>
<path d="M300.43 718.6L300.43 724.6M295.98 718.6L304.88 718.6M295.98 724.6L304.88 724.6" stroke="#1f8a1f" stroke-width="1.3" fill="none"/>
<polygon points="300.43,725.88 304.13,719.46 296.73,719.46" stroke="#1f8a1f" stroke-width="1.3" fill="none"/>
<path d="M323.72 771.1L323.72 777.1M319.27 771.1L328.17 771.1M319.27 777.1L328.17 777.1" stroke="#1f8a1f" stroke-width="1.3" fill="none"/>
<polygon points="323.72,778.38 327.42,771.96 320.02,771.96" stroke="#1f8a1f" stroke-width="1.3" fill="none"/>
<path d="M342.56 783.4L351.46 783.4" stroke="#1f8a1f" stroke-width="1.3" fill="none"/>
<polygon points="347.01,787.68 350.71,781.26 343.31,781.26" stroke="#1f8a1f" stroke-width="1.3" fill="none"/>
<path d="M365.85 786.6L374.75 786.6" stroke="#1f8a1f" stroke-width="1.3" fill="none"/>
<polygon points="370.3,790.88 374,784.46 366.6,784.46" stroke="#1f8a1f" stroke-width="1.3" fill="none"/>
<path d="M138.76 613.37L159.33 717.63M165.42 729.66L179.25 744.74M190.48 752.5L200.77 756.6M214.01 761.08L223.82 763.82M237.38 767.28L247.03 769.52M260.73 772.37L270.26 774.13M284.06 776.47L293.51 777.93M306.87 781.74L317.28 786.16M330.67 789.74L340.06 790.86M354 791.97L363.31 792.33" stroke="#8ad0ee" stroke-width="1.3" fill="none"/>
<path d="M132.95 606.5L141.85 606.5" stroke="#8ad0ee" stroke-width="1.3" fill="none"/>
<rect x="134.65" y="603.75" width="5.5" height="5.5" stroke="#8ad0ee" stroke-width="1.3" fill="none"/><path d="M134.65 603.75L140.15 609.25M134.65 609.25L140.15 603.75" stroke="#8ad0ee" stroke-width="1.3" fill="none"/>
<path d="M156.24 724.5L165.14 724.5" stroke="#8ad0ee" stroke-width="1.3" fill="none"/>
<rect x="157.94" y="721.75" width="5.5" height="5.5" stroke="#8ad0ee" stroke-width="1.3" fill="none"/><path d="M157.94 721.75L163.44 727.25M157.94 727.25L163.44 721.75" stroke="#8ad0ee" stroke-width="1.3" fill="none"/>
<path d="M179.53 749.9L188.43 749.9" stroke="#8ad0ee" stroke-width="1.3" fill="none"/>
<rect x="181.23" y="747.15" width="5.5" height="5.5" stroke="#8ad0ee" stroke-width="1.3" fill="none"/><path d="M181.23 747.15L186.73 752.65M181.23 752.65L186.73 747.15" stroke="#8ad0ee" stroke-width="1.3" fill="none"/>
<path d="M202.82 759.2L211.72 759.2" stroke="#8ad0ee" stroke-width="1.3" fill="none"/>
<rect x="204.52" y="756.45" width="5.5" height="5.5" stroke="#8ad0ee" stroke-width="1.3" fill="none"/><path d="M204.52 756.45L210.02 761.95M204.52 761.95L210.02 756.45" stroke="#8ad0ee" stroke-width="1.3" fill="none"/>
<path d="M226.11 765.7L235.01 765.7" stroke="#8ad0ee" stroke-width="1.3" fill="none"/>
<rect x="227.81" y="762.95" width="5.5" height="5.5" stroke="#8ad0ee" stroke-width="1.3" fill="none"/><path d="M227.81 762.95L233.31 768.45M227.81 768.45L233.31 762.95" stroke="#8ad0ee" stroke-width="1.3" fill="none"/>
<path d="M249.4 771.1L258.3 771.1" stroke="#8ad0ee" stroke-width="1.3" fill="none"/>
<rect x="251.1" y="768.35" width="5.5" height="5.5" stroke="#8ad0ee" stroke-width="1.3" fill="none"/><path d="M251.1 768.35L256.6 773.85M251.1 773.85L256.6 768.35" stroke="#8ad0ee" stroke-width="1.3" fill="none"/>
<path d="M272.69 775.4L281.59 775.4" stroke="#8ad0ee" stroke-width="1.3" fill="none"/>
<rect x="274.39" y="772.65" width="5.5" height="5.5" stroke="#8ad0ee" stroke-width="1.3" fill="none"/><path d="M274.39 772.65L279.89 778.15M274.39 778.15L279.89 772.65" stroke="#8ad0ee" stroke-width="1.3" fill="none"/>
<path d="M295.98 779L304.88 779" stroke="#8ad0ee" stroke-width="1.3" fill="none"/>
<rect x="297.68" y="776.25" width="5.5" height="5.5" stroke="#8ad0ee" stroke-width="1.3" fill="none"/><path d="M297.68 776.25L303.18 781.75M297.68 781.75L303.18 776.25" stroke="#8ad0ee" stroke-width="1.3" fill="none"/>
<path d="M319.27 788.9L328.17 788.9" stroke="#8ad0ee" stroke-width="1.3" fill="none"/>
<rect x="320.97" y="786.15" width="5.5" height="5.5" stroke="#8ad0ee" stroke-width="1.3" fill="none"/><path d="M320.97 786.15L326.47 791.65M320.97 791.65L326.47 786.15" stroke="#8ad0ee" stroke-width="1.3" fill="none"/>
<path d="M342.56 791.7L351.46 791.7" stroke="#8ad0ee" stroke-width="1.3" fill="none"/>
<rect x="344.26" y="788.95" width="5.5" height="5.5" stroke="#8ad0ee" stroke-width="1.3" fill="none"/><path d="M344.26 788.95L349.76 794.45M344.26 794.45L349.76 788.95" stroke="#8ad0ee" stroke-width="1.3" fill="none"/>
<path d="M365.85 792.6L374.75 792.6" stroke="#8ad0ee" stroke-width="1.3" fill="none"/>
<rect x="367.55" y="789.85" width="5.5" height="5.5" stroke="#8ad0ee" stroke-width="1.3" fill="none"/><path d="M367.55 789.85L373.05 795.35M367.55 795.35L373.05 789.85" stroke="#8ad0ee" stroke-width="1.3" fill="none"/>
<path d="M144.4 475.5L153.69 475.5M167.38 477.57L177.29 480.63M185.94 489.42L205.31 555.78M209.06 569.27L228.77 643.53M234.29 656.22L250.12 681.38M259.67 691.2L271.32 699M283.68 705.4L293.89 709.3M305.89 716.18L318.26 726.12M329.85 733.87L340.88 739.93M353.36 746.24L363.95 751.16" stroke="#1c1ccc" stroke-width="1.3" fill="none"/>
<path d="M134.65 472.75L140.15 478.25M134.65 478.25L140.15 472.75M133.51 475.5L141.29 475.5M137.4 471.61L137.4 479.39" stroke="#1c1ccc" stroke-width="1.3" fill="none"/>
<path d="M157.94 472.75L163.44 478.25M157.94 478.25L163.44 472.75M156.8 475.5L164.58 475.5M160.69 471.61L160.69 479.39" stroke="#1c1ccc" stroke-width="1.3" fill="none"/>
<path d="M179.53 482.7L188.43 482.7" stroke="#1c1ccc" stroke-width="1.3" fill="none"/>
<path d="M181.23 479.95L186.73 485.45M181.23 485.45L186.73 479.95M180.09 482.7L187.87 482.7M183.98 478.81L183.98 486.59" stroke="#1c1ccc" stroke-width="1.3" fill="none"/>
<path d="M202.82 562.5L211.72 562.5" stroke="#1c1ccc" stroke-width="1.3" fill="none"/>
<path d="M204.52 559.75L210.02 565.25M204.52 565.25L210.02 559.75M203.38 562.5L211.16 562.5M207.27 558.61L207.27 566.39" stroke="#1c1ccc" stroke-width="1.3" fill="none"/>
<path d="M226.11 650.3L235.01 650.3" stroke="#1c1ccc" stroke-width="1.3" fill="none"/>
<path d="M227.81 647.55L233.31 653.05M227.81 653.05L233.31 647.55M226.67 650.3L234.45 650.3M230.56 646.41L230.56 654.19" stroke="#1c1ccc" stroke-width="1.3" fill="none"/>
<path d="M249.4 687.3L258.3 687.3" stroke="#1c1ccc" stroke-width="1.3" fill="none"/>
<path d="M251.1 684.55L256.6 690.05M251.1 690.05L256.6 684.55M249.96 687.3L257.74 687.3M253.85 683.41L253.85 691.19" stroke="#1c1ccc" stroke-width="1.3" fill="none"/>
<path d="M272.69 702.9L281.59 702.9" stroke="#1c1ccc" stroke-width="1.3" fill="none"/>
<path d="M274.39 700.15L279.89 705.65M274.39 705.65L279.89 700.15M273.25 702.9L281.03 702.9M277.14 699.01L277.14 706.79" stroke="#1c1ccc" stroke-width="1.3" fill="none"/>
<path d="M295.98 711.8L304.88 711.8" stroke="#1c1ccc" stroke-width="1.3" fill="none"/>
<path d="M297.68 709.05L303.18 714.55M297.68 714.55L303.18 709.05M296.54 711.8L304.32 711.8M300.43 707.91L300.43 715.69" stroke="#1c1ccc" stroke-width="1.3" fill="none"/>
<path d="M319.27 730.5L328.17 730.5" stroke="#1c1ccc" stroke-width="1.3" fill="none"/>
<path d="M320.97 727.75L326.47 733.25M320.97 733.25L326.47 727.75M319.83 730.5L327.61 730.5M323.72 726.61L323.72 734.39" stroke="#1c1ccc" stroke-width="1.3" fill="none"/>
<path d="M342.56 743.3L351.46 743.3" stroke="#1c1ccc" stroke-width="1.3" fill="none"/>
<path d="M344.26 740.55L349.76 746.05M344.26 746.05L349.76 740.55M343.12 743.3L350.9 743.3M347.01 739.41L347.01 747.19" stroke="#1c1ccc" stroke-width="1.3" fill="none"/>
<path d="M365.85 754.1L374.75 754.1" stroke="#1c1ccc" stroke-width="1.3" fill="none"/>
<path d="M367.55 751.35L373.05 756.85M367.55 756.85L373.05 751.35M366.41 754.1L374.19 754.1M370.3 750.21L370.3 757.99" stroke="#1c1ccc" stroke-width="1.3" fill="none"/>
<path d="M140.13 521.44L157.96 563.46M162.86 576.55L181.81 634.55M186.94 647.55L204.31 684.85M212.37 696L225.46 708.3M236.94 715.98L247.47 720.72M260.65 725.26L270.34 727.64M284.06 730.37L293.51 731.83M306.78 735.84L317.37 740.76M330.31 746.05L340.42 749.65M353.64 754.25L363.67 757.65" stroke="#8a2be2" stroke-width="1.3" fill="none"/>
<path d="M132.95 515L141.85 515" stroke="#8a2be2" stroke-width="1.3" fill="none"/>
<polygon points="137.4,511.11 141.29,515 137.4,518.89 133.51,515" stroke="#8a2be2" stroke-width="1.3" fill="none"/><path d="M133.51 515L141.29 515M137.4 511.11L137.4 518.89" stroke="#8a2be2" stroke-width="1.3" fill="none"/>
<path d="M156.24 569.9L165.14 569.9" stroke="#8a2be2" stroke-width="1.3" fill="none"/>
<polygon points="160.69,566.01 164.58,569.9 160.69,573.79 156.8,569.9" stroke="#8a2be2" stroke-width="1.3" fill="none"/><path d="M156.8 569.9L164.58 569.9M160.69 566.01L160.69 573.79" stroke="#8a2be2" stroke-width="1.3" fill="none"/>
<path d="M179.53 641.2L188.43 641.2" stroke="#8a2be2" stroke-width="1.3" fill="none"/>
<polygon points="183.98,637.31 187.87,641.2 183.98,645.09 180.09,641.2" stroke="#8a2be2" stroke-width="1.3" fill="none"/><path d="M180.09 641.2L187.87 641.2M183.98 637.31L183.98 645.09" stroke="#8a2be2" stroke-width="1.3" fill="none"/>
<path d="M202.82 691.2L211.72 691.2" stroke="#8a2be2" stroke-width="1.3" fill="none"/>
<polygon points="207.27,687.31 211.16,691.2 207.27,695.09 203.38,691.2" stroke="#8a2be2" stroke-width="1.3" fill="none"/><path d="M203.38 691.2L211.16 691.2M207.27 687.31L207.27 695.09" stroke="#8a2be2" stroke-width="1.3" fill="none"/>
<path d="M226.11 713.1L235.01 713.1" stroke="#8a2be2" stroke-width="1.3" fill="none"/>
<polygon points="230.56,709.21 234.45,713.1 230.56,716.99 226.67,713.1" stroke="#8a2be2" stroke-width="1.3" fill="none"/><path d="M226.67 713.1L234.45 713.1M230.56 709.21L230.56 716.99" stroke="#8a2be2" stroke-width="1.3" fill="none"/>
<path d="M249.4 723.6L258.3 723.6" stroke="#8a2be2" stroke-width="1.3" fill="none"/>
<polygon points="253.85,719.71 257.74,723.6 253.85,727.49 249.96,723.6" stroke="#8a2be2" stroke-width="1.3" fill="none"/><path d="M249.96 723.6L257.74 723.6M253.85 719.71L253.85 727.49" stroke="#8a2be2" stroke-width="1.3" fill="none"/>
<path d="M272.69 729.3L281.59 729.3" stroke="#8a2be2" stroke-width="1.3" fill="none"/>
<polygon points="277.14,725.41 281.03,729.3 277.14,733.19 273.25,729.3" stroke="#8a2be2" stroke-width="1.3" fill="none"/><path d="M273.25 729.3L281.03 729.3M277.14 725.41L277.14 733.19" stroke="#8a2be2" stroke-width="1.3" fill="none"/>
<path d="M295.98 732.9L304.88 732.9" stroke="#8a2be2" stroke-width="1.3" fill="none"/>
<polygon points="300.43,729.01 304.32,732.9 300.43,736.79 296.54,732.9" stroke="#8a2be2" stroke-width="1.3" fill="none"/><path d="M296.54 732.9L304.32 732.9M300.43 729.01L300.43 736.79" stroke="#8a2be2" stroke-width="1.3" fill="none"/>
<path d="M319.27 743.7L328.17 743.7" stroke="#8a2be2" stroke-width="1.3" fill="none"/>
<polygon points="323.72,739.81 327.61,743.7 323.72,747.59 319.83,743.7" stroke="#8a2be2" stroke-width="1.3" fill="none"/><path d="M319.83 743.7L327.61 743.7M323.72 739.81L323.72 747.59" stroke="#8a2be2" stroke-width="1.3" fill="none"/>
<path d="M342.56 752L351.46 752" stroke="#8a2be2" stroke-width="1.3" fill="none"/>
<polygon points="347.01,748.11 350.9,752 347.01,755.89 343.12,752" stroke="#8a2be2" stroke-width="1.3" fill="none"/><path d="M343.12 752L350.9 752M347.01 748.11L347.01 755.89" stroke="#8a2be2" stroke-width="1.3" fill="none"/>
<path d="M365.85 759.9L374.75 759.9" stroke="#8a2be2" stroke-width="1.3" fill="none"/>
<polygon points="370.3,756.01 374.19,759.9 370.3,763.79 366.41,759.9" stroke="#8a2be2" stroke-width="1.3" fill="none"/><path d="M366.41 759.9L374.19 759.9M370.3 756.01L370.3 763.79" stroke="#8a2be2" stroke-width="1.3" fill="none"/>
<path d="M144.4 475.5L153.69 475.5M167.69 475.5L176.98 475.5M190.98 475.68L200.27 475.92M214.23 476.85L223.6 477.85M237.44 479.87L246.97 481.63M260.48 485.15L270.51 488.55M283.54 493.63L294.03 498.27M302.26 507.86L321.89 580.34M325.58 593.85L345.15 665.05M350.95 677.59L366.36 700.21" stroke="#dc6d96" stroke-width="1.3" fill="none"/>
<circle cx="137.4" cy="475.5" r="2.75" stroke="#dc6d96" stroke-width="1.3" fill="none"/><path d="M134.65 475.5L140.15 475.5M137.4 472.75L137.4 478.25" stroke="#dc6d96" stroke-width="1.3" fill="none"/>
<circle cx="160.69" cy="475.5" r="2.75" stroke="#dc6d96" stroke-width="1.3" fill="none"/><path d="M157.94 475.5L163.44 475.5M160.69 472.75L160.69 478.25" stroke="#dc6d96" stroke-width="1.3" fill="none"/>
<circle cx="183.98" cy="475.5" r="2.75" stroke="#dc6d96" stroke-width="1.3" fill="none"/><path d="M181.23 475.5L186.73 475.5M183.98 472.75L183.98 478.25" stroke="#dc6d96" stroke-width="1.3" fill="none"/>
<path d="M202.82 476.1L211.72 476.1" stroke="#dc6d96" stroke-width="1.3" fill="none"/>
<circle cx="207.27" cy="476.1" r="2.75" stroke="#dc6d96" stroke-width="1.3" fill="none"/><path d="M204.52 476.1L210.02 476.1M207.27 473.35L207.27 478.85" stroke="#dc6d96" stroke-width="1.3" fill="none"/>
<path d="M226.11 478.6L235.01 478.6" stroke="#dc6d96" stroke-width="1.3" fill="none"/>
<circle cx="230.56" cy="478.6" r="2.75" stroke="#dc6d96" stroke-width="1.3" fill="none"/><path d="M227.81 478.6L233.31 478.6M230.56 475.85L230.56 481.35" stroke="#dc6d96" stroke-width="1.3" fill="none"/>
<path d="M249.4 482.9L258.3 482.9" stroke="#dc6d96" stroke-width="1.3" fill="none"/>
<circle cx="253.85" cy="482.9" r="2.75" stroke="#dc6d96" stroke-width="1.3" fill="none"/><path d="M251.1 482.9L256.6 482.9M253.85 480.15L253.85 485.65" stroke="#dc6d96" stroke-width="1.3" fill="none"/>
<path d="M272.69 490.8L281.59 490.8" stroke="#dc6d96" stroke-width="1.3" fill="none"/>
<circle cx="277.14" cy="490.8" r="2.75" stroke="#dc6d96" stroke-width="1.3" fill="none"/><path d="M274.39 490.8L279.89 490.8M277.14 488.05L277.14 493.55" stroke="#dc6d96" stroke-width="1.3" fill="none"/>
<path d="M295.98 501.1L304.88 501.1" stroke="#dc6d96" stroke-width="1.3" fill="none"/>
<circle cx="300.43" cy="501.1" r="2.75" stroke="#dc6d96" stroke-width="1.3" fill="none"/><path d="M297.68 501.1L303.18 501.1M300.43 498.35L300.43 503.85" stroke="#dc6d96" stroke-width="1.3" fill="none"/>
<path d="M323.72 584.3L323.72 589.9M319.27 584.3L328.17 584.3M319.27 589.9L328.17 589.9" stroke="#dc6d96" stroke-width="1.3" fill="none"/>
<circle cx="323.72" cy="587.1" r="2.75" stroke="#dc6d96" stroke-width="1.3" fill="none"/><path d="M320.97 587.1L326.47 587.1M323.72 584.35L323.72 589.85" stroke="#dc6d96" stroke-width="1.3" fill="none"/>
<path d="M347.01 669L347.01 674.6M342.56 669L351.46 669M342.56 674.6L351.46 674.6" stroke="#dc6d96" stroke-width="1.3" fill="none"/>
<circle cx="347.01" cy="671.8" r="2.75" stroke="#dc6d96" stroke-width="1.3" fill="none"/><path d="M344.26 671.8L349.76 671.8M347.01 669.05L347.01 674.55" stroke="#dc6d96" stroke-width="1.3" fill="none"/>
<path d="M370.3 703.2L370.3 708.8M365.85 703.2L374.75 703.2M365.85 708.8L374.75 708.8" stroke="#dc6d96" stroke-width="1.3" fill="none"/>
<circle cx="370.3" cy="706" r="2.75" stroke="#dc6d96" stroke-width="1.3" fill="none"/><path d="M367.55 706L373.05 706M370.3 703.25L370.3 708.75" stroke="#dc6d96" stroke-width="1.3" fill="none"/>
<rect x="127.6" y="463.3" width="251.3" height="343.7" stroke="#000" stroke-width="1.3" fill="none"/>
<path d="M136.8 807L136.8 815.2M160.08 807L160.08 815.2M183.35 807L183.35 815.2M206.62 807L206.62 815.2M229.9 807L229.9 815.2M253.18 807L253.18 815.2M276.45 807L276.45 815.2M299.73 807L299.73 815.2M323 807L323 815.2M346.27 807L346.27 815.2M369.55 807L369.55 815.2" stroke="#000" stroke-width="1.2"/>
<text x="136.3" y="834.7" text-anchor="middle" font-size="10.3" stroke-width="0">.25</text>
<text x="159.58" y="834.7" text-anchor="middle" font-size="10.3" stroke-width="0">.50</text>
<text x="182.85" y="834.7" text-anchor="middle" font-size="10.3" stroke-width="0">.75</text>
<text x="206.12" y="834.7" text-anchor="middle" font-size="10.3" stroke-width="0">1.00</text>
<text x="229.4" y="834.7" text-anchor="middle" font-size="10.3" stroke-width="0">1.25</text>
<text x="252.68" y="834.7" text-anchor="middle" font-size="10.3" stroke-width="0">1.50</text>
<text x="275.95" y="834.7" text-anchor="middle" font-size="10.3" stroke-width="0">1.75</text>
<text x="299.23" y="834.7" text-anchor="middle" font-size="10.3" stroke-width="0">2.00</text>
<text x="322.5" y="834.7" text-anchor="middle" font-size="10.3" stroke-width="0">3.00</text>
<text x="345.77" y="834.7" text-anchor="middle" font-size="10.3" stroke-width="0">4.00</text>
<text x="369.05" y="834.7" text-anchor="middle" font-size="10.3" stroke-width="0">5.00</text>
<path d="M119.8 794.4L127.6 794.4M119.8 730.62L127.6 730.62M119.8 666.84L127.6 666.84M119.8 603.06L127.6 603.06M119.8 539.28L127.6 539.28M119.8 475.5L127.6 475.5" stroke="#000" stroke-width="1.2"/>
<text transform="translate(108.9 794.4) rotate(-90)" text-anchor="middle" font-size="11.8" stroke-width="0.1">0.0</text>
<text transform="translate(108.9 730.62) rotate(-90)" text-anchor="middle" font-size="11.8" stroke-width="0.1">0.2</text>
<text transform="translate(108.9 666.84) rotate(-90)" text-anchor="middle" font-size="11.8" stroke-width="0.1">0.4</text>
<text transform="translate(108.9 603.06) rotate(-90)" text-anchor="middle" font-size="11.8" stroke-width="0.1">0.6</text>
<text transform="translate(108.9 539.28) rotate(-90)" text-anchor="middle" font-size="11.8" stroke-width="0.1">0.8</text>
<text transform="translate(108.9 475.5) rotate(-90)" text-anchor="middle" font-size="11.8" stroke-width="0.1">1.0</text>
<text x="126.9" y="456.9" font-size="18" stroke-width="0.4">C</text>
<path d="M442.3 475.6L451.59 475.6M465.59 475.6L474.88 475.6M488.88 475.6L498.17 475.6M512.17 475.6L521.46 475.6M535.46 475.6L544.75 475.6M558.75 475.6L568.04 475.6M582.04 475.6L591.33 475.6M605.33 475.6L614.62 475.6M628.62 475.6L637.91 475.6M651.91 475.6L661.2 475.6" stroke="#000000" stroke-width="1.3" fill="none"/>
<rect x="432.55" y="472.85" width="5.5" height="5.5" stroke="#000000" stroke-width="1.3" fill="none"/>
<rect x="455.84" y="472.85" width="5.5" height="5.5" stroke="#000000" stroke-width="1.3" fill="none"/>
<rect x="479.13" y="472.85" width="5.5" height="5.5" stroke="#000000" stroke-width="1.3" fill="none"/>
<rect x="502.42" y="472.85" width="5.5" height="5.5" stroke="#000000" stroke-width="1.3" fill="none"/>
<rect x="525.71" y="472.85" width="5.5" height="5.5" stroke="#000000" stroke-width="1.3" fill="none"/>
<rect x="549" y="472.85" width="5.5" height="5.5" stroke="#000000" stroke-width="1.3" fill="none"/>
<rect x="572.29" y="472.85" width="5.5" height="5.5" stroke="#000000" stroke-width="1.3" fill="none"/>
<rect x="595.58" y="472.85" width="5.5" height="5.5" stroke="#000000" stroke-width="1.3" fill="none"/>
<rect x="618.87" y="472.85" width="5.5" height="5.5" stroke="#000000" stroke-width="1.3" fill="none"/>
<rect x="642.16" y="472.85" width="5.5" height="5.5" stroke="#000000" stroke-width="1.3" fill="none"/>
<rect x="665.45" y="472.85" width="5.5" height="5.5" stroke="#000000" stroke-width="1.3" fill="none"/>
<path d="M442.3 475.6L451.59 475.6M465.59 475.6L474.88 475.6M488.88 475.6L498.17 475.6M512.17 475.6L521.46 475.6M535.46 475.6L544.75 475.6M558.75 475.6L568.04 475.6M582.04 475.6L591.33 475.6M605.33 475.6L614.62 475.6M628.62 475.6L637.91 475.6M651.91 475.6L661.2 475.6" stroke="#8e97a3" stroke-width="1.3" fill="none"/>
<circle cx="435.3" cy="475.6" r="2.75" stroke="#8e97a3" stroke-width="1.3" fill="none"/>
<circle cx="458.59" cy="475.6" r="2.75" stroke="#8e97a3" stroke-width="1.3" fill="none"/>
<circle cx="481.88" cy="475.6" r="2.75" stroke="#8e97a3" stroke-width="1.3" fill="none"/>
<circle cx="505.17" cy="475.6" r="2.75" stroke="#8e97a3" stroke-width="1.3" fill="none"/>
<circle cx="528.46" cy="475.6" r="2.75" stroke="#8e97a3" stroke-width="1.3" fill="none"/>
<circle cx="551.75" cy="475.6" r="2.75" stroke="#8e97a3" stroke-width="1.3" fill="none"/>
<circle cx="575.04" cy="475.6" r="2.75" stroke="#8e97a3" stroke-width="1.3" fill="none"/>
<circle cx="598.33" cy="475.6" r="2.75" stroke="#8e97a3" stroke-width="1.3" fill="none"/>
<circle cx="621.62" cy="475.6" r="2.75" stroke="#8e97a3" stroke-width="1.3" fill="none"/>
<circle cx="644.91" cy="475.6" r="2.75" stroke="#8e97a3" stroke-width="1.3" fill="none"/>
<circle cx="668.2" cy="475.6" r="2.75" stroke="#8e97a3" stroke-width="1.3" fill="none"/>
<path d="M442.3 475.6L451.59 475.6M465.59 475.6L474.88 475.6M488.88 475.6L498.17 475.6M512.17 475.6L521.46 475.6M535.46 475.6L544.75 475.6M558.75 475.6L568.04 475.6M582.04 475.6L591.33 475.6M605.33 475.6L614.62 475.6M628.62 475.6L637.91 475.6M651.91 475.6L661.2 475.6" stroke="#8b1a24" stroke-width="1.3" fill="none"/>
<polygon points="435.3,471.32 439,477.74 431.6,477.74" stroke="#8b1a24" stroke-width="1.3" fill="none"/>
<polygon points="458.59,471.32 462.29,477.74 454.89,477.74" stroke="#8b1a24" stroke-width="1.3" fill="none"/>
<polygon points="481.88,471.32 485.58,477.74 478.18,477.74" stroke="#8b1a24" stroke-width="1.3" fill="none"/>
<polygon points="505.17,471.32 508.87,477.74 501.47,477.74" stroke="#8b1a24" stroke-width="1.3" fill="none"/>
<polygon points="528.46,471.32 532.16,477.74 524.76,477.74" stroke="#8b1a24" stroke-width="1.3" fill="none"/>
<polygon points="551.75,471.32 555.45,477.74 548.05,477.74" stroke="#8b1a24" stroke-width="1.3" fill="none"/>
<polygon points="575.04,471.32 578.74,477.74 571.34,477.74" stroke="#8b1a24" stroke-width="1.3" fill="none"/>
<polygon points="598.33,471.32 602.03,477.74 594.63,477.74" stroke="#8b1a24" stroke-width="1.3" fill="none"/>
<polygon points="621.62,471.32 625.32,477.74 617.92,477.74" stroke="#8b1a24" stroke-width="1.3" fill="none"/>
<polygon points="644.91,471.32 648.61,477.74 641.21,477.74" stroke="#8b1a24" stroke-width="1.3" fill="none"/>
<polygon points="668.2,471.32 671.9,477.74 664.5,477.74" stroke="#8b1a24" stroke-width="1.3" fill="none"/>
<path d="M442.3 475.6L451.59 475.6M465.59 475.6L474.88 475.6M488.88 475.6L498.17 475.6M512.17 475.6L521.46 475.6M535.46 475.6L544.75 475.6M558.75 475.6L568.04 475.6M582.04 475.6L591.33 475.6M605.33 475.6L614.62 475.6M628.62 475.6L637.91 475.6M651.91 475.6L661.2 475.6" stroke="#cc2a22" stroke-width="1.3" fill="none"/>
<path d="M431.41 475.6L439.19 475.6M435.3 471.71L435.3 479.49" stroke="#cc2a22" stroke-width="1.3" fill="none"/>
<path d="M454.7 475.6L462.48 475.6M458.59 471.71L458.59 479.49" stroke="#cc2a22" stroke-width="1.3" fill="none"/>
<path d="M477.99 475.6L485.77 475.6M481.88 471.71L481.88 479.49" stroke="#cc2a22" stroke-width="1.3" fill="none"/>
<path d="M501.28 475.6L509.06 475.6M505.17 471.71L505.17 479.49" stroke="#cc2a22" stroke-width="1.3" fill="none"/>
<path d="M524.57 475.6L532.35 475.6M528.46 471.71L528.46 479.49" stroke="#cc2a22" stroke-width="1.3" fill="none"/>
<path d="M547.86 475.6L555.64 475.6M551.75 471.71L551.75 479.49" stroke="#cc2a22" stroke-width="1.3" fill="none"/>
<path d="M571.15 475.6L578.93 475.6M575.04 471.71L575.04 479.49" stroke="#cc2a22" stroke-width="1.3" fill="none"/>
<path d="M594.44 475.6L602.22 475.6M598.33 471.71L598.33 479.49" stroke="#cc2a22" stroke-width="1.3" fill="none"/>
<path d="M617.73 475.6L625.51 475.6M621.62 471.71L621.62 479.49" stroke="#cc2a22" stroke-width="1.3" fill="none"/>
<path d="M641.02 475.6L648.8 475.6M644.91 471.71L644.91 479.49" stroke="#cc2a22" stroke-width="1.3" fill="none"/>
<path d="M664.31 475.6L672.09 475.6M668.2 471.71L668.2 479.49" stroke="#cc2a22" stroke-width="1.3" fill="none"/>
<path d="M442.3 475.6L451.59 475.6M465.59 475.6L474.88 475.6M488.88 475.6L498.17 475.6M512.17 475.6L521.46 475.6M535.46 475.6L544.75 475.6M558.75 475.6L568.04 475.6M582.04 475.6L591.33 475.6M605.33 475.6L614.62 475.6M628.62 475.6L637.91 475.6M651.91 475.6L661.2 475.6" stroke="#f59020" stroke-width="1.3" fill="none"/>
<path d="M432.55 472.85L438.05 478.35M432.55 478.35L438.05 472.85" stroke="#f59020" stroke-width="1.3" fill="none"/>
<path d="M455.84 472.85L461.34 478.35M455.84 478.35L461.34 472.85" stroke="#f59020" stroke-width="1.3" fill="none"/>
<path d="M479.13 472.85L484.63 478.35M479.13 478.35L484.63 472.85" stroke="#f59020" stroke-width="1.3" fill="none"/>
<path d="M502.42 472.85L507.92 478.35M502.42 478.35L507.92 472.85" stroke="#f59020" stroke-width="1.3" fill="none"/>
<path d="M525.71 472.85L531.21 478.35M525.71 478.35L531.21 472.85" stroke="#f59020" stroke-width="1.3" fill="none"/>
<path d="M549 472.85L554.5 478.35M549 478.35L554.5 472.85" stroke="#f59020" stroke-width="1.3" fill="none"/>
<path d="M572.29 472.85L577.79 478.35M572.29 478.35L577.79 472.85" stroke="#f59020" stroke-width="1.3" fill="none"/>
<path d="M595.58 472.85L601.08 478.35M595.58 478.35L601.08 472.85" stroke="#f59020" stroke-width="1.3" fill="none"/>
<path d="M618.87 472.85L624.37 478.35M618.87 478.35L624.37 472.85" stroke="#f59020" stroke-width="1.3" fill="none"/>
<path d="M642.16 472.85L647.66 478.35M642.16 478.35L647.66 472.85" stroke="#f59020" stroke-width="1.3" fill="none"/>
<path d="M665.45 472.85L670.95 478.35M665.45 478.35L670.95 472.85" stroke="#f59020" stroke-width="1.3" fill="none"/>
<path d="M441.59 482.48L452.3 487.72M462.86 496.35L477.61 515.55M483.3 527.95L503.75 626.45M506.95 640.07L526.68 715.03M532.56 727.47L547.65 748.33M557.7 757.68L569.09 764.72M581.87 769.95L591.5 772.15M604.98 775.87L614.97 779.13M628.62 781.48L637.91 781.72M651.91 781.72L661.2 781.48" stroke="#2fc42f" stroke-width="1.3" fill="none"/>
<path d="M430.85 479.4L439.75 479.4" stroke="#2fc42f" stroke-width="1.3" fill="none"/>
<polygon points="435.3,475.51 439.19,479.4 435.3,483.29 431.41,479.4" stroke="#2fc42f" stroke-width="1.3" fill="none"/>
<path d="M454.14 490.8L463.04 490.8" stroke="#2fc42f" stroke-width="1.3" fill="none"/>
<polygon points="458.59,486.91 462.48,490.8 458.59,494.69 454.7,490.8" stroke="#2fc42f" stroke-width="1.3" fill="none"/>
<path d="M477.43 521.1L486.33 521.1" stroke="#2fc42f" stroke-width="1.3" fill="none"/>
<polygon points="481.88,517.21 485.77,521.1 481.88,524.99 477.99,521.1" stroke="#2fc42f" stroke-width="1.3" fill="none"/>
<path d="M505.17 630.3L505.17 636.3M500.72 630.3L509.62 630.3M500.72 636.3L509.62 636.3" stroke="#2fc42f" stroke-width="1.3" fill="none"/>
<polygon points="505.17,629.41 509.06,633.3 505.17,637.19 501.28,633.3" stroke="#2fc42f" stroke-width="1.3" fill="none"/>
<path d="M528.46 718.8L528.46 724.8M524.01 718.8L532.91 718.8M524.01 724.8L532.91 724.8" stroke="#2fc42f" stroke-width="1.3" fill="none"/>
<polygon points="528.46,717.91 532.35,721.8 528.46,725.69 524.57,721.8" stroke="#2fc42f" stroke-width="1.3" fill="none"/>
<path d="M547.3 754L556.2 754" stroke="#2fc42f" stroke-width="1.3" fill="none"/>
<polygon points="551.75,750.11 555.64,754 551.75,757.89 547.86,754" stroke="#2fc42f" stroke-width="1.3" fill="none"/>
<path d="M570.59 768.4L579.49 768.4" stroke="#2fc42f" stroke-width="1.3" fill="none"/>
<polygon points="575.04,764.51 578.93,768.4 575.04,772.29 571.15,768.4" stroke="#2fc42f" stroke-width="1.3" fill="none"/>
<path d="M593.88 773.7L602.78 773.7" stroke="#2fc42f" stroke-width="1.3" fill="none"/>
<polygon points="598.33,769.81 602.22,773.7 598.33,777.59 594.44,773.7" stroke="#2fc42f" stroke-width="1.3" fill="none"/>
<path d="M617.17 781.3L626.07 781.3" stroke="#2fc42f" stroke-width="1.3" fill="none"/>
<polygon points="621.62,777.41 625.51,781.3 621.62,785.19 617.73,781.3" stroke="#2fc42f" stroke-width="1.3" fill="none"/>
<path d="M640.46 781.9L649.36 781.9" stroke="#2fc42f" stroke-width="1.3" fill="none"/>
<polygon points="644.91,778.01 648.8,781.9 644.91,785.79 641.02,781.9" stroke="#2fc42f" stroke-width="1.3" fill="none"/>
<path d="M663.75 781.3L672.65 781.3" stroke="#2fc42f" stroke-width="1.3" fill="none"/>
<polygon points="668.2,777.41 672.09,781.3 668.2,785.19 664.31,781.3" stroke="#2fc42f" stroke-width="1.3" fill="none"/>
<path d="M441.61 482.83L452.28 487.97M461.38 497.42L479.09 538.28M483.22 551.57L503.83 657.03M507.23 670.59L526.4 733.01M533.18 744.87L547.03 760.03M558.1 768.14L568.69 773.06M582 776.78L591.37 777.82M605.14 780.24L614.81 782.56M628.62 784.02L637.91 783.78M651.91 783.6L661.2 783.6" stroke="#1f8a1f" stroke-width="1.3" fill="none"/>
<path d="M430.85 479.8L439.75 479.8" stroke="#1f8a1f" stroke-width="1.3" fill="none"/>
<polygon points="435.3,484.08 439,477.66 431.6,477.66" stroke="#1f8a1f" stroke-width="1.3" fill="none"/>
<path d="M454.14 491L463.04 491" stroke="#1f8a1f" stroke-width="1.3" fill="none"/>
<polygon points="458.59,495.28 462.29,488.86 454.89,488.86" stroke="#1f8a1f" stroke-width="1.3" fill="none"/>
<path d="M481.88 541.7L481.88 547.7M477.43 541.7L486.33 541.7M477.43 547.7L486.33 547.7" stroke="#1f8a1f" stroke-width="1.3" fill="none"/>
<polygon points="481.88,548.98 485.58,542.56 478.18,542.56" stroke="#1f8a1f" stroke-width="1.3" fill="none"/>
<path d="M505.17 660.9L505.17 666.9M500.72 660.9L509.62 660.9M500.72 666.9L509.62 666.9" stroke="#1f8a1f" stroke-width="1.3" fill="none"/>
<polygon points="505.17,668.18 508.87,661.76 501.47,661.76" stroke="#1f8a1f" stroke-width="1.3" fill="none"/>
<path d="M528.46 736.7L528.46 742.7M524.01 736.7L532.91 736.7M524.01 742.7L532.91 742.7" stroke="#1f8a1f" stroke-width="1.3" fill="none"/>
<polygon points="528.46,743.98 532.16,737.56 524.76,737.56" stroke="#1f8a1f" stroke-width="1.3" fill="none"/>
<path d="M547.3 765.2L556.2 765.2" stroke="#1f8a1f" stroke-width="1.3" fill="none"/>
<polygon points="551.75,769.48 555.45,763.06 548.05,763.06" stroke="#1f8a1f" stroke-width="1.3" fill="none"/>
<path d="M570.59 776L579.49 776" stroke="#1f8a1f" stroke-width="1.3" fill="none"/>
<polygon points="575.04,780.28 578.74,773.86 571.34,773.86" stroke="#1f8a1f" stroke-width="1.3" fill="none"/>
<path d="M593.88 778.6L602.78 778.6" stroke="#1f8a1f" stroke-width="1.3" fill="none"/>
<polygon points="598.33,782.88 602.03,776.46 594.63,776.46" stroke="#1f8a1f" stroke-width="1.3" fill="none"/>
<path d="M617.17 784.2L626.07 784.2" stroke="#1f8a1f" stroke-width="1.3" fill="none"/>
<polygon points="621.62,788.48 625.32,782.06 617.92,782.06" stroke="#1f8a1f" stroke-width="1.3" fill="none"/>
<path d="M640.46 783.6L649.36 783.6" stroke="#1f8a1f" stroke-width="1.3" fill="none"/>
<polygon points="644.91,787.88 648.61,781.46 641.21,781.46" stroke="#1f8a1f" stroke-width="1.3" fill="none"/>
<path d="M663.75 783.6L672.65 783.6" stroke="#1f8a1f" stroke-width="1.3" fill="none"/>
<polygon points="668.2,787.88 671.9,781.46 664.5,781.46" stroke="#1f8a1f" stroke-width="1.3" fill="none"/>
<path d="M437.02 643.99L456.87 722.21M464.49 732.77L475.98 740.13M488.6 745.86L498.45 748.74M512.02 752.14L521.61 754.16M535.31 757.04L544.9 759.06M558.68 761.51L568.11 762.89M581.92 765.17L591.45 766.93M604.24 771.95L615.71 779.25M628.42 784.66L638.11 787.04M651.91 788.88L661.2 789.12" stroke="#8ad0ee" stroke-width="1.3" fill="none"/>
<path d="M430.85 637.2L439.75 637.2" stroke="#8ad0ee" stroke-width="1.3" fill="none"/>
<rect x="432.55" y="634.45" width="5.5" height="5.5" stroke="#8ad0ee" stroke-width="1.3" fill="none"/><path d="M432.55 634.45L438.05 639.95M432.55 639.95L438.05 634.45" stroke="#8ad0ee" stroke-width="1.3" fill="none"/>
<path d="M454.14 729L463.04 729" stroke="#8ad0ee" stroke-width="1.3" fill="none"/>
<rect x="455.84" y="726.25" width="5.5" height="5.5" stroke="#8ad0ee" stroke-width="1.3" fill="none"/><path d="M455.84 726.25L461.34 731.75M455.84 731.75L461.34 726.25" stroke="#8ad0ee" stroke-width="1.3" fill="none"/>
<path d="M477.43 743.9L486.33 743.9" stroke="#8ad0ee" stroke-width="1.3" fill="none"/>
<rect x="479.13" y="741.15" width="5.5" height="5.5" stroke="#8ad0ee" stroke-width="1.3" fill="none"/><path d="M479.13 741.15L484.63 746.65M479.13 746.65L484.63 741.15" stroke="#8ad0ee" stroke-width="1.3" fill="none"/>
<path d="M500.72 750.7L509.62 750.7" stroke="#8ad0ee" stroke-width="1.3" fill="none"/>
<rect x="502.42" y="747.95" width="5.5" height="5.5" stroke="#8ad0ee" stroke-width="1.3" fill="none"/><path d="M502.42 747.95L507.92 753.45M502.42 753.45L507.92 747.95" stroke="#8ad0ee" stroke-width="1.3" fill="none"/>
<path d="M524.01 755.6L532.91 755.6" stroke="#8ad0ee" stroke-width="1.3" fill="none"/>
<rect x="525.71" y="752.85" width="5.5" height="5.5" stroke="#8ad0ee" stroke-width="1.3" fill="none"/><path d="M525.71 752.85L531.21 758.35M525.71 758.35L531.21 752.85" stroke="#8ad0ee" stroke-width="1.3" fill="none"/>
<path d="M547.3 760.5L556.2 760.5" stroke="#8ad0ee" stroke-width="1.3" fill="none"/>
<rect x="549" y="757.75" width="5.5" height="5.5" stroke="#8ad0ee" stroke-width="1.3" fill="none"/><path d="M549 757.75L554.5 763.25M549 763.25L554.5 757.75" stroke="#8ad0ee" stroke-width="1.3" fill="none"/>
<path d="M570.59 763.9L579.49 763.9" stroke="#8ad0ee" stroke-width="1.3" fill="none"/>
<rect x="572.29" y="761.15" width="5.5" height="5.5" stroke="#8ad0ee" stroke-width="1.3" fill="none"/><path d="M572.29 761.15L577.79 766.65M572.29 766.65L577.79 761.15" stroke="#8ad0ee" stroke-width="1.3" fill="none"/>
<path d="M593.88 768.2L602.78 768.2" stroke="#8ad0ee" stroke-width="1.3" fill="none"/>
<rect x="595.58" y="765.45" width="5.5" height="5.5" stroke="#8ad0ee" stroke-width="1.3" fill="none"/><path d="M595.58 765.45L601.08 770.95M595.58 770.95L601.08 765.45" stroke="#8ad0ee" stroke-width="1.3" fill="none"/>
<path d="M617.17 783L626.07 783" stroke="#8ad0ee" stroke-width="1.3" fill="none"/>
<rect x="618.87" y="780.25" width="5.5" height="5.5" stroke="#8ad0ee" stroke-width="1.3" fill="none"/><path d="M618.87 780.25L624.37 785.75M618.87 785.75L624.37 780.25" stroke="#8ad0ee" stroke-width="1.3" fill="none"/>
<path d="M640.46 788.7L649.36 788.7" stroke="#8ad0ee" stroke-width="1.3" fill="none"/>
<rect x="642.16" y="785.95" width="5.5" height="5.5" stroke="#8ad0ee" stroke-width="1.3" fill="none"/><path d="M642.16 785.95L647.66 791.45M642.16 791.45L647.66 785.95" stroke="#8ad0ee" stroke-width="1.3" fill="none"/>
<path d="M663.75 789.3L672.65 789.3" stroke="#8ad0ee" stroke-width="1.3" fill="none"/>
<rect x="665.45" y="786.55" width="5.5" height="5.5" stroke="#8ad0ee" stroke-width="1.3" fill="none"/><path d="M665.45 786.55L670.95 792.05M665.45 792.05L670.95 786.55" stroke="#8ad0ee" stroke-width="1.3" fill="none"/>
<path d="M436.97 496.1L456.92 577.5M460.64 590.99L479.83 653.81M486.85 665.43L500.2 678.67M511.71 686.1L521.92 690M535.39 693.51L544.82 694.89M558.75 696.02L568.04 696.18M582.04 696.54L591.33 696.86M605.29 697.82L614.66 698.78M627.94 702.51L638.59 707.59M650.76 714.44L662.35 722.06" stroke="#1c1ccc" stroke-width="1.3" fill="none"/>
<path d="M430.85 489.3L439.75 489.3" stroke="#1c1ccc" stroke-width="1.3" fill="none"/>
<path d="M432.55 486.55L438.05 492.05M432.55 492.05L438.05 486.55M431.41 489.3L439.19 489.3M435.3 485.41L435.3 493.19" stroke="#1c1ccc" stroke-width="1.3" fill="none"/>
<path d="M454.14 584.3L463.04 584.3" stroke="#1c1ccc" stroke-width="1.3" fill="none"/>
<path d="M455.84 581.55L461.34 587.05M455.84 587.05L461.34 581.55M454.7 584.3L462.48 584.3M458.59 580.41L458.59 588.19" stroke="#1c1ccc" stroke-width="1.3" fill="none"/>
<path d="M477.43 660.5L486.33 660.5" stroke="#1c1ccc" stroke-width="1.3" fill="none"/>
<path d="M479.13 657.75L484.63 663.25M479.13 663.25L484.63 657.75M477.99 660.5L485.77 660.5M481.88 656.61L481.88 664.39" stroke="#1c1ccc" stroke-width="1.3" fill="none"/>
<path d="M500.72 683.6L509.62 683.6" stroke="#1c1ccc" stroke-width="1.3" fill="none"/>
<path d="M502.42 680.85L507.92 686.35M502.42 686.35L507.92 680.85M501.28 683.6L509.06 683.6M505.17 679.71L505.17 687.49" stroke="#1c1ccc" stroke-width="1.3" fill="none"/>
<path d="M524.01 692.5L532.91 692.5" stroke="#1c1ccc" stroke-width="1.3" fill="none"/>
<path d="M525.71 689.75L531.21 695.25M525.71 695.25L531.21 689.75M524.57 692.5L532.35 692.5M528.46 688.61L528.46 696.39" stroke="#1c1ccc" stroke-width="1.3" fill="none"/>
<path d="M547.3 695.9L556.2 695.9" stroke="#1c1ccc" stroke-width="1.3" fill="none"/>
<path d="M549 693.15L554.5 698.65M549 698.65L554.5 693.15M547.86 695.9L555.64 695.9M551.75 692.01L551.75 699.79" stroke="#1c1ccc" stroke-width="1.3" fill="none"/>
<path d="M570.59 696.3L579.49 696.3" stroke="#1c1ccc" stroke-width="1.3" fill="none"/>
<path d="M572.29 693.55L577.79 699.05M572.29 699.05L577.79 693.55M571.15 696.3L578.93 696.3M575.04 692.41L575.04 700.19" stroke="#1c1ccc" stroke-width="1.3" fill="none"/>
<path d="M593.88 697.1L602.78 697.1" stroke="#1c1ccc" stroke-width="1.3" fill="none"/>
<path d="M595.58 694.35L601.08 699.85M595.58 699.85L601.08 694.35M594.44 697.1L602.22 697.1M598.33 693.21L598.33 700.99" stroke="#1c1ccc" stroke-width="1.3" fill="none"/>
<path d="M617.17 699.5L626.07 699.5" stroke="#1c1ccc" stroke-width="1.3" fill="none"/>
<path d="M618.87 696.75L624.37 702.25M618.87 702.25L624.37 696.75M617.73 699.5L625.51 699.5M621.62 695.61L621.62 703.39" stroke="#1c1ccc" stroke-width="1.3" fill="none"/>
<path d="M640.46 710.6L649.36 710.6" stroke="#1c1ccc" stroke-width="1.3" fill="none"/>
<path d="M642.16 707.85L647.66 713.35M642.16 713.35L647.66 707.85M641.02 710.6L648.8 710.6M644.91 706.71L644.91 714.49" stroke="#1c1ccc" stroke-width="1.3" fill="none"/>
<path d="M663.75 725.9L672.65 725.9" stroke="#1c1ccc" stroke-width="1.3" fill="none"/>
<path d="M665.45 723.15L670.95 728.65M665.45 728.65L670.95 723.15M664.31 725.9L672.09 725.9M668.2 722.01L668.2 729.79" stroke="#1c1ccc" stroke-width="1.3" fill="none"/>
<path d="M437.24 539.13L456.65 606.47M461.01 619.77L479.46 669.73M487.16 680.9L499.89 692M512.05 697.9L521.58 699.7M535.44 701.51L544.77 702.19M558.73 702.19L568.06 701.51M582.04 700.97L591.33 700.93M605.32 700.48L614.63 699.92M628.57 700.36L637.96 701.54M651.27 705.32L661.84 710.18" stroke="#8a2be2" stroke-width="1.3" fill="none"/>
<path d="M430.85 532.4L439.75 532.4" stroke="#8a2be2" stroke-width="1.3" fill="none"/>
<polygon points="435.3,528.51 439.19,532.4 435.3,536.29 431.41,532.4" stroke="#8a2be2" stroke-width="1.3" fill="none"/><path d="M431.41 532.4L439.19 532.4M435.3 528.51L435.3 536.29" stroke="#8a2be2" stroke-width="1.3" fill="none"/>
<path d="M454.14 613.2L463.04 613.2" stroke="#8a2be2" stroke-width="1.3" fill="none"/>
<polygon points="458.59,609.31 462.48,613.2 458.59,617.09 454.7,613.2" stroke="#8a2be2" stroke-width="1.3" fill="none"/><path d="M454.7 613.2L462.48 613.2M458.59 609.31L458.59 617.09" stroke="#8a2be2" stroke-width="1.3" fill="none"/>
<path d="M477.43 676.3L486.33 676.3" stroke="#8a2be2" stroke-width="1.3" fill="none"/>
<polygon points="481.88,672.41 485.77,676.3 481.88,680.19 477.99,676.3" stroke="#8a2be2" stroke-width="1.3" fill="none"/><path d="M477.99 676.3L485.77 676.3M481.88 672.41L481.88 680.19" stroke="#8a2be2" stroke-width="1.3" fill="none"/>
<path d="M500.72 696.6L509.62 696.6" stroke="#8a2be2" stroke-width="1.3" fill="none"/>
<polygon points="505.17,692.71 509.06,696.6 505.17,700.49 501.28,696.6" stroke="#8a2be2" stroke-width="1.3" fill="none"/><path d="M501.28 696.6L509.06 696.6M505.17 692.71L505.17 700.49" stroke="#8a2be2" stroke-width="1.3" fill="none"/>
<path d="M524.01 701L532.91 701" stroke="#8a2be2" stroke-width="1.3" fill="none"/>
<polygon points="528.46,697.11 532.35,701 528.46,704.89 524.57,701" stroke="#8a2be2" stroke-width="1.3" fill="none"/><path d="M524.57 701L532.35 701M528.46 697.11L528.46 704.89" stroke="#8a2be2" stroke-width="1.3" fill="none"/>
<path d="M547.3 702.7L556.2 702.7" stroke="#8a2be2" stroke-width="1.3" fill="none"/>
<polygon points="551.75,698.81 555.64,702.7 551.75,706.59 547.86,702.7" stroke="#8a2be2" stroke-width="1.3" fill="none"/><path d="M547.86 702.7L555.64 702.7M551.75 698.81L551.75 706.59" stroke="#8a2be2" stroke-width="1.3" fill="none"/>
<path d="M570.59 701L579.49 701" stroke="#8a2be2" stroke-width="1.3" fill="none"/>
<polygon points="575.04,697.11 578.93,701 575.04,704.89 571.15,701" stroke="#8a2be2" stroke-width="1.3" fill="none"/><path d="M571.15 701L578.93 701M575.04 697.11L575.04 704.89" stroke="#8a2be2" stroke-width="1.3" fill="none"/>
<path d="M593.88 700.9L602.78 700.9" stroke="#8a2be2" stroke-width="1.3" fill="none"/>
<polygon points="598.33,697.01 602.22,700.9 598.33,704.79 594.44,700.9" stroke="#8a2be2" stroke-width="1.3" fill="none"/><path d="M594.44 700.9L602.22 700.9M598.33 697.01L598.33 704.79" stroke="#8a2be2" stroke-width="1.3" fill="none"/>
<path d="M617.17 699.5L626.07 699.5" stroke="#8a2be2" stroke-width="1.3" fill="none"/>
<polygon points="621.62,695.61 625.51,699.5 621.62,703.39 617.73,699.5" stroke="#8a2be2" stroke-width="1.3" fill="none"/><path d="M617.73 699.5L625.51 699.5M621.62 695.61L621.62 703.39" stroke="#8a2be2" stroke-width="1.3" fill="none"/>
<path d="M640.46 702.4L649.36 702.4" stroke="#8a2be2" stroke-width="1.3" fill="none"/>
<polygon points="644.91,698.51 648.8,702.4 644.91,706.29 641.02,702.4" stroke="#8a2be2" stroke-width="1.3" fill="none"/><path d="M641.02 702.4L648.8 702.4M644.91 698.51L644.91 706.29" stroke="#8a2be2" stroke-width="1.3" fill="none"/>
<path d="M663.75 713.1L672.65 713.1" stroke="#8a2be2" stroke-width="1.3" fill="none"/>
<polygon points="668.2,709.21 672.09,713.1 668.2,716.99 664.31,713.1" stroke="#8a2be2" stroke-width="1.3" fill="none"/><path d="M664.31 713.1L672.09 713.1M668.2 709.21L668.2 716.99" stroke="#8a2be2" stroke-width="1.3" fill="none"/>
<path d="M442.3 475.6L451.59 475.6M465.41 477.18L475.06 479.42M488.68 482.66L498.37 485.04M511.82 488.87L521.81 492.13M534.64 497.59L545.57 503.41M557.85 510.13L568.94 516.37M580.31 524.41L593.06 535.59M599.97 547L619.98 629.8M624.36 643.04L642.17 684.86M649.66 696.44L663.45 711.36" stroke="#dc6d96" stroke-width="1.3" fill="none"/>
<circle cx="435.3" cy="475.6" r="2.75" stroke="#dc6d96" stroke-width="1.3" fill="none"/><path d="M432.55 475.6L438.05 475.6M435.3 472.85L435.3 478.35" stroke="#dc6d96" stroke-width="1.3" fill="none"/>
<circle cx="458.59" cy="475.6" r="2.75" stroke="#dc6d96" stroke-width="1.3" fill="none"/><path d="M455.84 475.6L461.34 475.6M458.59 472.85L458.59 478.35" stroke="#dc6d96" stroke-width="1.3" fill="none"/>
<path d="M477.43 481L486.33 481" stroke="#dc6d96" stroke-width="1.3" fill="none"/>
<circle cx="481.88" cy="481" r="2.75" stroke="#dc6d96" stroke-width="1.3" fill="none"/><path d="M479.13 481L484.63 481M481.88 478.25L481.88 483.75" stroke="#dc6d96" stroke-width="1.3" fill="none"/>
<path d="M500.72 486.7L509.62 486.7" stroke="#dc6d96" stroke-width="1.3" fill="none"/>
<circle cx="505.17" cy="486.7" r="2.75" stroke="#dc6d96" stroke-width="1.3" fill="none"/><path d="M502.42 486.7L507.92 486.7M505.17 483.95L505.17 489.45" stroke="#dc6d96" stroke-width="1.3" fill="none"/>
<path d="M524.01 494.3L532.91 494.3" stroke="#dc6d96" stroke-width="1.3" fill="none"/>
<circle cx="528.46" cy="494.3" r="2.75" stroke="#dc6d96" stroke-width="1.3" fill="none"/><path d="M525.71 494.3L531.21 494.3M528.46 491.55L528.46 497.05" stroke="#dc6d96" stroke-width="1.3" fill="none"/>
<path d="M547.3 506.7L556.2 506.7" stroke="#dc6d96" stroke-width="1.3" fill="none"/>
<circle cx="551.75" cy="506.7" r="2.75" stroke="#dc6d96" stroke-width="1.3" fill="none"/><path d="M549 506.7L554.5 506.7M551.75 503.95L551.75 509.45" stroke="#dc6d96" stroke-width="1.3" fill="none"/>
<path d="M570.59 519.8L579.49 519.8" stroke="#dc6d96" stroke-width="1.3" fill="none"/>
<circle cx="575.04" cy="519.8" r="2.75" stroke="#dc6d96" stroke-width="1.3" fill="none"/><path d="M572.29 519.8L577.79 519.8M575.04 517.05L575.04 522.55" stroke="#dc6d96" stroke-width="1.3" fill="none"/>
<path d="M593.88 540.2L602.78 540.2" stroke="#dc6d96" stroke-width="1.3" fill="none"/>
<circle cx="598.33" cy="540.2" r="2.75" stroke="#dc6d96" stroke-width="1.3" fill="none"/><path d="M595.58 540.2L601.08 540.2M598.33 537.45L598.33 542.95" stroke="#dc6d96" stroke-width="1.3" fill="none"/>
<path d="M621.62 633.8L621.62 639.4M617.17 633.8L626.07 633.8M617.17 639.4L626.07 639.4" stroke="#dc6d96" stroke-width="1.3" fill="none"/>
<circle cx="621.62" cy="636.6" r="2.75" stroke="#dc6d96" stroke-width="1.3" fill="none"/><path d="M618.87 636.6L624.37 636.6M621.62 633.85L621.62 639.35" stroke="#dc6d96" stroke-width="1.3" fill="none"/>
<path d="M644.91 688.5L644.91 694.1M640.46 688.5L649.36 688.5M640.46 694.1L649.36 694.1" stroke="#dc6d96" stroke-width="1.3" fill="none"/>
<circle cx="644.91" cy="691.3" r="2.75" stroke="#dc6d96" stroke-width="1.3" fill="none"/><path d="M642.16 691.3L647.66 691.3M644.91 688.55L644.91 694.05" stroke="#dc6d96" stroke-width="1.3" fill="none"/>
<path d="M668.2 712L668.2 720.5M663.75 712L672.65 712M663.75 720.5L672.65 720.5" stroke="#dc6d96" stroke-width="1.3" fill="none"/>
<circle cx="668.2" cy="716.5" r="2.75" stroke="#dc6d96" stroke-width="1.3" fill="none"/><path d="M665.45 716.5L670.95 716.5M668.2 713.75L668.2 719.25" stroke="#dc6d96" stroke-width="1.3" fill="none"/>
<rect x="426.7" y="463.6" width="251.4" height="343.8" stroke="#000" stroke-width="1.3" fill="none"/>
<path d="M435.9 807.4L435.9 815.6M459.19 807.4L459.19 815.6M482.48 807.4L482.48 815.6M505.77 807.4L505.77 815.6M529.06 807.4L529.06 815.6M552.35 807.4L552.35 815.6M575.64 807.4L575.64 815.6M598.93 807.4L598.93 815.6M622.22 807.4L622.22 815.6M645.51 807.4L645.51 815.6M668.8 807.4L668.8 815.6" stroke="#000" stroke-width="1.2"/>
<text x="435.4" y="835.1" text-anchor="middle" font-size="10.3" stroke-width="0">.25</text>
<text x="458.69" y="835.1" text-anchor="middle" font-size="10.3" stroke-width="0">.50</text>
<text x="481.98" y="835.1" text-anchor="middle" font-size="10.3" stroke-width="0">.75</text>
<text x="505.27" y="835.1" text-anchor="middle" font-size="10.3" stroke-width="0">1.00</text>
<text x="528.56" y="835.1" text-anchor="middle" font-size="10.3" stroke-width="0">1.25</text>
<text x="551.85" y="835.1" text-anchor="middle" font-size="10.3" stroke-width="0">1.50</text>
<text x="575.14" y="835.1" text-anchor="middle" font-size="10.3" stroke-width="0">1.75</text>
<text x="598.43" y="835.1" text-anchor="middle" font-size="10.3" stroke-width="0">2.00</text>
<text x="621.72" y="835.1" text-anchor="middle" font-size="10.3" stroke-width="0">3.00</text>
<text x="645.01" y="835.1" text-anchor="middle" font-size="10.3" stroke-width="0">4.00</text>
<text x="668.3" y="835.1" text-anchor="middle" font-size="10.3" stroke-width="0">5.00</text>
<path d="M418.9 794L426.7 794M418.9 730.32L426.7 730.32M418.9 666.64L426.7 666.64M418.9 602.96L426.7 602.96M418.9 539.28L426.7 539.28M418.9 475.6L426.7 475.6" stroke="#000" stroke-width="1.2"/>
<text transform="translate(408 794) rotate(-90)" text-anchor="middle" font-size="11.8" stroke-width="0.1">0.0</text>
<text transform="translate(408 730.32) rotate(-90)" text-anchor="middle" font-size="11.8" stroke-width="0.1">0.2</text>
<text transform="translate(408 666.64) rotate(-90)" text-anchor="middle" font-size="11.8" stroke-width="0.1">0.4</text>
<text transform="translate(408 602.96) rotate(-90)" text-anchor="middle" font-size="11.8" stroke-width="0.1">0.6</text>
<text transform="translate(408 539.28) rotate(-90)" text-anchor="middle" font-size="11.8" stroke-width="0.1">0.8</text>
<text transform="translate(408 475.6) rotate(-90)" text-anchor="middle" font-size="11.8" stroke-width="0.1">1.0</text>
<text x="424.5" y="456.9" font-size="18" stroke-width="0.4">D</text>
<rect x="220.5" y="887.7" width="364.8" height="62.5" stroke="#222" stroke-width="1.1" fill="none"/>
<rect x="236.75" y="902.75" width="5.5" height="5.5" stroke="#000000" stroke-width="1.2" fill="none"/>
<text x="257" y="909.8" font-size="12.6" stroke-width="0.2">Avid</text>
<circle cx="239.5" cy="920.6" r="2.75" stroke="#8e97a3" stroke-width="1.2" fill="none"/>
<text x="257" y="924.9" font-size="12.6" stroke-width="0.2">ClustalW</text>
<polygon points="239.5,931.02 243.2,937.44 235.8,937.44" stroke="#8b1a24" stroke-width="1.2" fill="none"/>
<text x="257" y="939.6" font-size="12.6" stroke-width="0.2">DiAlign</text>
<path d="M324.21 905L331.99 905M328.1 901.11L328.1 908.89" stroke="#cc2a22" stroke-width="1.2" fill="none"/>
<text x="345.2" y="909.3" font-size="12.6" stroke-width="0.2">Lagan</text>
<path d="M325.35 917.55L330.85 923.05M325.35 923.05L330.85 917.55" stroke="#f59020" stroke-width="1.2" fill="none"/>
<text x="345.2" y="924.6" font-size="12.6" stroke-width="0.2">Needle</text>
<polygon points="410.5,898.71 414.39,902.6 410.5,906.49 406.61,902.6" stroke="#2fc42f" stroke-width="1.2" fill="none"/>
<text x="428.2" y="906.9" font-size="12.6" stroke-width="0.2">BlastZ</text>
<polygon points="410.5,922.68 414.2,916.26 406.8,916.26" stroke="#1f8a1f" stroke-width="1.2" fill="none"/>
<text x="428.2" y="922.7" font-size="12.6" stroke-width="0.2">BlastZ-A</text>
<rect x="407.75" y="930.65" width="5.5" height="5.5" stroke="#8ad0ee" stroke-width="1.2" fill="none"/><path d="M407.75 930.65L413.25 936.15M407.75 936.15L413.25 930.65" stroke="#8ad0ee" stroke-width="1.2" fill="none"/>
<text x="428.2" y="937.7" font-size="12.6" stroke-width="0.2">Chaos</text>
<path d="M492.25 896.75L497.75 902.25M492.25 902.25L497.75 896.75M491.11 899.5L498.89 899.5M495 895.61L495 903.39" stroke="#1c1ccc" stroke-width="1.2" fill="none"/>
<text x="512.4" y="903.8" font-size="12.6" stroke-width="0.2">Chaos-A</text>
<polygon points="495,911.41 498.89,915.3 495,919.19 491.11,915.3" stroke="#8a2be2" stroke-width="1.2" fill="none"/><path d="M491.11 915.3L498.89 915.3M495 911.41L495 919.19" stroke="#8a2be2" stroke-width="1.2" fill="none"/>
<text x="512.4" y="919.6" font-size="12.6" stroke-width="0.2">DiAlign-L</text>
<circle cx="495" cy="930.5" r="2.75" stroke="#dc6d96" stroke-width="1.2" fill="none"/><path d="M492.25 930.5L497.75 930.5M495 927.75L495 933.25" stroke="#dc6d96" stroke-width="1.2" fill="none"/>
<text x="512.4" y="934.8" font-size="12.6" stroke-width="0.2">WABA</text>
<text transform="translate(75.9 440.3) rotate(-90)" text-anchor="middle" font-size="18.05" stroke-width="0.3">Overall Coverage</text>
<text x="405.7" y="861.9" text-anchor="middle" font-size="18" stroke-width="0.3">Divergence Distance (Substitutions Per Site)</text>
</g>
</svg>
</body></html>
